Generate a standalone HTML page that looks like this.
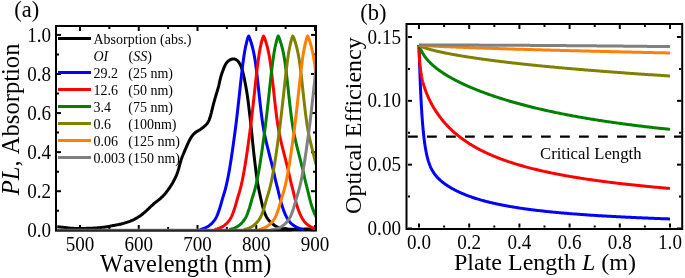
<!DOCTYPE html>
<html><head><meta charset="utf-8">
<style>
html,body{margin:0;padding:0;background:#fff;}
svg{display:block;}
text{font-family:"Liberation Serif",serif;fill:#000;font-kerning:none;}

</style></head>
<body>
<svg width="685" height="278" viewBox="0 0 685 278">
<rect width="685" height="278" fill="#fff"/>
<g opacity="0.999">
<!-- panel a -->
<defs>
<clipPath id="ca"><rect x="57" y="27" width="258" height="205"/></clipPath>
<clipPath id="cb"><rect x="408" y="25" width="273" height="202.5"/></clipPath>
</defs>
<rect x="56" y="26" width="260" height="204.5" fill="none" stroke="#000" stroke-width="2"/>
<g stroke="#000" stroke-width="2"><line x1="80.00" y1="229" x2="80.00" y2="225"/>
<line x1="80.00" y1="27" x2="80.00" y2="31"/>
<line x1="109.38" y1="229" x2="109.38" y2="227"/>
<line x1="109.38" y1="27" x2="109.38" y2="29"/>
<line x1="138.75" y1="229" x2="138.75" y2="225"/>
<line x1="138.75" y1="27" x2="138.75" y2="31"/>
<line x1="168.12" y1="229" x2="168.12" y2="227"/>
<line x1="168.12" y1="27" x2="168.12" y2="29"/>
<line x1="197.50" y1="229" x2="197.50" y2="225"/>
<line x1="197.50" y1="27" x2="197.50" y2="31"/>
<line x1="226.88" y1="229" x2="226.88" y2="227"/>
<line x1="226.88" y1="27" x2="226.88" y2="29"/>
<line x1="256.25" y1="229" x2="256.25" y2="225"/>
<line x1="256.25" y1="27" x2="256.25" y2="31"/>
<line x1="285.62" y1="229" x2="285.62" y2="227"/>
<line x1="285.62" y1="27" x2="285.62" y2="29"/>
<line x1="315.00" y1="229" x2="315.00" y2="225"/>
<line x1="315.00" y1="27" x2="315.00" y2="31"/>
<line x1="57" y1="230.30" x2="61" y2="230.30"/>
<line x1="315" y1="230.30" x2="311" y2="230.30"/>
<line x1="57" y1="210.76" x2="59" y2="210.76"/>
<line x1="315" y1="210.76" x2="313" y2="210.76"/>
<line x1="57" y1="191.22" x2="61" y2="191.22"/>
<line x1="315" y1="191.22" x2="311" y2="191.22"/>
<line x1="57" y1="171.68" x2="59" y2="171.68"/>
<line x1="315" y1="171.68" x2="313" y2="171.68"/>
<line x1="57" y1="152.14" x2="61" y2="152.14"/>
<line x1="315" y1="152.14" x2="311" y2="152.14"/>
<line x1="57" y1="132.60" x2="59" y2="132.60"/>
<line x1="315" y1="132.60" x2="313" y2="132.60"/>
<line x1="57" y1="113.06" x2="61" y2="113.06"/>
<line x1="315" y1="113.06" x2="311" y2="113.06"/>
<line x1="57" y1="93.52" x2="59" y2="93.52"/>
<line x1="315" y1="93.52" x2="313" y2="93.52"/>
<line x1="57" y1="73.98" x2="61" y2="73.98"/>
<line x1="315" y1="73.98" x2="311" y2="73.98"/>
<line x1="57" y1="54.44" x2="59" y2="54.44"/>
<line x1="315" y1="54.44" x2="313" y2="54.44"/>
<line x1="57" y1="34.90" x2="61" y2="34.90"/>
<line x1="315" y1="34.90" x2="311" y2="34.90"/></g>
<g clip-path="url(#ca)" fill="none" stroke-width="3" stroke-linejoin="round">
<path d="M57.29,226.76 L57.77,226.80 L58.37,226.85 L59.07,226.91 L59.82,226.98 L60.62,227.05 L61.43,227.14 L62.24,227.23 L63.06,227.32 L63.88,227.41 L64.70,227.51 L65.52,227.60 L66.34,227.70 L67.16,227.79 L67.98,227.88 L68.80,227.96 L69.62,228.04 L70.44,228.12 L71.26,228.19 L72.08,228.25 L72.90,228.30 L73.72,228.34 L74.54,228.38 L75.37,228.41 L76.19,228.43 L77.01,228.44 L77.84,228.45 L78.66,228.46 L79.49,228.46 L80.31,228.45 L81.13,228.44 L81.96,228.43 L82.78,228.42 L83.61,228.41 L84.43,228.39 L85.26,228.38 L86.08,228.36 L86.91,228.34 L87.73,228.33 L88.55,228.30 L89.38,228.28 L90.20,228.26 L91.02,228.23 L91.85,228.20 L92.67,228.16 L93.49,228.12 L94.32,228.08 L95.14,228.03 L95.96,227.98 L96.78,227.92 L97.60,227.86 L98.42,227.79 L99.24,227.71 L100.06,227.63 L100.88,227.55 L101.70,227.46 L102.52,227.36 L103.34,227.25 L104.16,227.14 L104.97,227.03 L105.79,226.91 L106.60,226.78 L107.41,226.65 L108.23,226.51 L109.04,226.36 L109.85,226.21 L110.66,226.06 L111.46,225.90 L112.27,225.74 L113.08,225.58 L113.89,225.43 L114.70,225.27 L115.51,225.12 L116.32,224.97 L117.13,224.81 L117.94,224.66 L118.75,224.51 L119.56,224.34 L120.36,224.17 L121.16,223.99 L121.96,223.79 L122.76,223.59 L123.55,223.37 L124.34,223.14 L125.13,222.90 L125.92,222.65 L126.70,222.39 L127.48,222.12 L128.26,221.85 L129.04,221.57 L129.81,221.28 L130.58,220.99 L131.34,220.68 L132.10,220.36 L132.86,220.03 L133.60,219.68 L134.34,219.32 L135.07,218.94 L135.79,218.55 L136.51,218.14 L137.22,217.72 L137.92,217.29 L138.61,216.84 L139.30,216.38 L139.98,215.92 L140.65,215.44 L141.32,214.95 L141.98,214.46 L142.63,213.95 L143.27,213.44 L143.91,212.92 L144.54,212.39 L145.17,211.85 L145.79,211.31 L146.40,210.76 L147.00,210.20 L147.60,209.63 L148.20,209.06 L148.79,208.49 L149.38,207.91 L149.97,207.34 L150.56,206.77 L151.16,206.20 L151.76,205.64 L152.37,205.08 L152.99,204.54 L153.61,204.00 L154.24,203.47 L154.88,202.95 L155.52,202.43 L156.16,201.92 L156.81,201.41 L157.46,200.90 L158.11,200.39 L158.75,199.87 L159.39,199.35 L160.02,198.82 L160.64,198.28 L161.25,197.73 L161.85,197.17 L162.45,196.59 L163.03,196.01 L163.60,195.41 L164.16,194.81 L164.70,194.19 L165.24,193.57 L165.76,192.93 L166.28,192.29 L166.78,191.64 L167.27,190.98 L167.76,190.31 L168.24,189.64 L168.72,188.97 L169.18,188.29 L169.65,187.61 L170.10,186.92 L170.56,186.23 L171.00,185.54 L171.44,184.84 L171.88,184.14 L172.30,183.44 L172.72,182.73 L173.12,182.01 L173.52,181.29 L173.91,180.56 L174.29,179.83 L174.66,179.10 L175.02,178.35 L175.37,177.61 L175.71,176.86 L176.04,176.10 L176.37,175.35 L176.68,174.59 L176.99,173.82 L177.28,173.05 L177.56,172.28 L177.83,171.50 L178.08,170.71 L178.32,169.93 L178.56,169.14 L178.78,168.34 L178.99,167.55 L179.20,166.75 L179.41,165.95 L179.62,165.16 L179.83,164.36 L180.04,163.56 L180.27,162.77 L180.49,161.98 L180.73,161.19 L180.97,160.40 L181.23,159.62 L181.49,158.84 L181.77,158.06 L182.05,157.29 L182.35,156.52 L182.65,155.75 L182.96,154.99 L183.28,154.23 L183.60,153.47 L183.92,152.72 L184.25,151.96 L184.58,151.20 L184.90,150.44 L185.23,149.69 L185.55,148.93 L185.88,148.17 L186.20,147.41 L186.52,146.65 L186.85,145.90 L187.18,145.14 L187.51,144.39 L187.85,143.64 L188.19,142.89 L188.54,142.15 L188.90,141.41 L189.27,140.68 L189.65,139.94 L190.05,139.22 L190.45,138.50 L190.87,137.78 L191.31,137.08 L191.77,136.39 L192.26,135.72 L192.76,135.07 L193.30,134.45 L193.86,133.86 L194.46,133.30 L195.09,132.78 L195.74,132.29 L196.41,131.83 L197.11,131.39 L197.81,130.97 L198.52,130.54 L199.23,130.12 L199.93,129.68 L200.62,129.24 L201.30,128.77 L201.97,128.29 L202.62,127.79 L203.27,127.28 L203.91,126.75 L204.53,126.21 L205.14,125.65 L205.73,125.08 L206.30,124.49 L206.84,123.87 L207.34,123.23 L207.81,122.56 L208.23,121.87 L208.62,121.15 L208.97,120.40 L209.28,119.64 L209.57,118.87 L209.84,118.09 L210.09,117.30 L210.33,116.50 L210.56,115.71 L210.78,114.91 L210.99,114.11 L211.19,113.31 L211.40,112.52 L211.59,111.72 L211.79,110.92 L211.99,110.12 L212.18,109.32 L212.38,108.52 L212.57,107.72 L212.77,106.92 L212.97,106.12 L213.17,105.32 L213.38,104.53 L213.59,103.73 L213.80,102.93 L214.01,102.14 L214.23,101.34 L214.45,100.55 L214.67,99.76 L214.90,98.96 L215.13,98.17 L215.35,97.38 L215.58,96.59 L215.82,95.80 L216.05,95.01 L216.28,94.22 L216.52,93.43 L216.76,92.64 L217.00,91.85 L217.23,91.06 L217.47,90.27 L217.71,89.48 L217.94,88.69 L218.16,87.90 L218.38,87.10 L218.59,86.31 L218.79,85.51 L218.97,84.71 L219.16,83.90 L219.33,83.10 L219.51,82.29 L219.68,81.49 L219.86,80.68 L220.04,79.88 L220.23,79.08 L220.43,78.28 L220.64,77.48 L220.86,76.69 L221.09,75.90 L221.33,75.11 L221.58,74.32 L221.84,73.54 L222.11,72.76 L222.38,71.99 L222.66,71.22 L222.94,70.44 L223.23,69.67 L223.53,68.90 L223.83,68.13 L224.14,67.36 L224.47,66.60 L224.80,65.84 L225.16,65.10 L225.55,64.38 L225.98,63.68 L226.44,63.01 L226.94,62.38 L227.49,61.79 L228.08,61.23 L228.72,60.71 L229.40,60.24 L230.11,59.82 L230.84,59.46 L231.60,59.17 L232.37,58.98 L233.14,58.89 L233.91,58.92 L234.67,59.06 L235.41,59.33 L236.11,59.70 L236.78,60.15 L237.41,60.69 L238.00,61.28 L238.54,61.91 L239.03,62.57 L239.49,63.26 L239.90,63.97 L240.28,64.70 L240.62,65.44 L240.95,66.19 L241.25,66.96 L241.53,67.73 L241.79,68.50 L242.04,69.29 L242.28,70.08 L242.51,70.87 L242.72,71.67 L242.93,72.47 L243.13,73.27 L243.32,74.07 L243.50,74.88 L243.69,75.69 L243.86,76.49 L244.04,77.30 L244.20,78.11 L244.37,78.91 L244.54,79.72 L244.70,80.53 L244.86,81.34 L245.01,82.14 L245.17,82.95 L245.32,83.76 L245.47,84.57 L245.62,85.38 L245.77,86.19 L245.92,87.00 L246.06,87.81 L246.21,88.62 L246.35,89.43 L246.49,90.25 L246.62,91.06 L246.76,91.87 L246.89,92.69 L247.02,93.50 L247.15,94.31 L247.27,95.13 L247.40,95.94 L247.51,96.76 L247.63,97.57 L247.74,98.39 L247.85,99.21 L247.96,100.02 L248.07,100.84 L248.17,101.66 L248.28,102.48 L248.38,103.29 L248.48,104.11 L248.58,104.93 L248.67,105.75 L248.77,106.57 L248.87,107.38 L248.97,108.20 L249.06,109.02 L249.16,109.84 L249.26,110.66 L249.35,111.48 L249.45,112.29 L249.55,113.11 L249.65,113.93 L249.74,114.75 L249.84,115.57 L249.94,116.38 L250.03,117.20 L250.13,118.02 L250.22,118.84 L250.32,119.66 L250.41,120.48 L250.51,121.29 L250.60,122.11 L250.69,122.93 L250.78,123.75 L250.87,124.57 L250.96,125.39 L251.05,126.21 L251.14,127.03 L251.22,127.85 L251.31,128.67 L251.39,129.49 L251.48,130.31 L251.56,131.13 L251.64,131.95 L251.72,132.76 L251.81,133.58 L251.89,134.40 L251.97,135.22 L252.05,136.04 L252.13,136.86 L252.21,137.68 L252.29,138.50 L252.37,139.32 L252.45,140.14 L252.54,140.96 L252.62,141.78 L252.70,142.60 L252.78,143.42 L252.87,144.24 L252.95,145.06 L253.03,145.88 L253.12,146.70 L253.20,147.52 L253.29,148.34 L253.38,149.16 L253.46,149.98 L253.55,150.80 L253.64,151.62 L253.73,152.44 L253.82,153.26 L253.91,154.08 L254.00,154.89 L254.09,155.71 L254.19,156.53 L254.28,157.35 L254.38,158.17 L254.47,158.99 L254.57,159.81 L254.66,160.62 L254.76,161.44 L254.86,162.26 L254.95,163.08 L255.05,163.90 L255.15,164.71 L255.25,165.53 L255.35,166.35 L255.45,167.17 L255.55,167.99 L255.65,168.80 L255.75,169.62 L255.86,170.44 L255.96,171.26 L256.06,172.07 L256.17,172.89 L256.27,173.71 L256.38,174.53 L256.49,175.34 L256.60,176.16 L256.71,176.98 L256.82,177.79 L256.94,178.61 L257.06,179.42 L257.18,180.24 L257.30,181.05 L257.43,181.87 L257.57,182.68 L257.70,183.49 L257.84,184.30 L257.99,185.11 L258.14,185.93 L258.29,186.74 L258.45,187.54 L258.61,188.35 L258.77,189.16 L258.94,189.97 L259.11,190.77 L259.28,191.58 L259.45,192.39 L259.63,193.19 L259.80,194.00 L259.98,194.80 L260.16,195.61 L260.33,196.41 L260.51,197.21 L260.69,198.02 L260.87,198.82 L261.05,199.62 L261.23,200.42 L261.41,201.23 L261.59,202.03 L261.78,202.83 L261.97,203.63 L262.16,204.43 L262.36,205.23 L262.56,206.03 L262.77,206.83 L262.98,207.62 L263.21,208.42 L263.44,209.21 L263.68,210.01 L263.93,210.80 L264.19,211.59 L264.47,212.37 L264.76,213.15 L265.07,213.92 L265.40,214.68 L265.74,215.43 L266.11,216.17 L266.50,216.89 L266.91,217.60 L267.35,218.29 L267.82,218.96 L268.31,219.61 L268.83,220.24 L269.38,220.86 L269.94,221.45 L270.53,222.03 L271.13,222.60 L271.75,223.14 L272.39,223.68 L273.04,224.20 L273.70,224.70 L274.37,225.19 L275.05,225.65 L275.75,226.09 L276.46,226.49 L277.19,226.87 L277.93,227.21 L278.69,227.52 L279.46,227.79 L280.24,228.02 L281.04,228.23 L281.85,228.40 L282.66,228.55 L283.47,228.68 L284.29,228.79 L285.12,228.89 L285.94,228.97 L286.76,229.04 L287.59,229.10 L288.41,229.15 L289.23,229.20 L290.06,229.23 L290.88,229.26 L291.70,229.27 L292.52,229.29 L293.35,229.29 L294.17,229.29 L294.99,229.29 L295.81,229.28 L296.64,229.27 L297.46,229.25 L298.28,229.24 L299.10,229.22 L299.92,229.20 L300.75,229.18 L301.57,229.16 L302.39,229.15 L303.22,229.13 L304.04,229.12 L304.86,229.10 L305.68,229.10 L306.51,229.09 L307.33,229.09 L308.16,229.10 L308.98,229.11 L309.80,229.13 L310.63,229.15 L311.45,229.19 L312.26,229.23 L313.04,229.27 L313.78,229.32 L314.43,229.37 L314.98,229.41" stroke="#000"/>
<path d="M199.76,229.49 L200.13,229.42 L200.50,229.35 L200.88,229.27 L201.25,229.18 L201.62,229.09 L202.00,229.00 L202.37,228.89 L202.74,228.78 L203.12,228.67 L203.49,228.55 L203.86,228.41 L204.24,228.28 L204.61,228.13 L204.98,227.98 L205.36,227.81 L205.73,227.64 L206.10,227.46 L206.48,227.27 L206.85,227.07 L207.22,226.86 L207.60,226.64 L207.97,226.41 L208.34,226.17 L208.72,225.92 L209.09,225.65 L209.46,225.38 L209.84,225.09 L210.21,224.79 L210.58,224.47 L210.96,224.14 L211.33,223.80 L211.70,223.44 L212.08,223.05 L212.45,222.65 L212.82,222.23 L213.20,221.79 L213.57,221.34 L213.94,220.87 L214.32,220.37 L214.69,219.85 L215.06,219.30 L215.44,218.72 L215.81,218.10 L216.18,217.43 L216.56,216.70 L216.93,215.90 L217.30,215.04 L217.68,214.12 L218.05,213.14 L218.42,212.12 L218.80,211.05 L219.17,209.97 L219.55,208.85 L219.92,207.68 L220.29,206.45 L220.67,205.17 L221.04,203.86 L221.41,202.53 L221.79,201.19 L222.16,199.87 L222.53,198.59 L222.91,197.34 L223.28,196.13 L223.65,194.93 L224.03,193.73 L224.40,192.50 L224.77,191.23 L225.15,189.88 L225.52,188.45 L225.89,186.96 L226.27,185.41 L226.64,183.80 L227.01,182.12 L227.39,180.37 L227.76,178.56 L228.13,176.68 L228.51,174.73 L228.88,172.72 L229.25,170.64 L229.63,168.50 L230.00,166.29 L230.37,164.01 L230.75,161.68 L231.12,159.29 L231.49,156.84 L231.87,154.33 L232.24,151.78 L232.61,149.18 L232.99,146.54 L233.36,143.87 L233.73,141.17 L234.11,138.44 L234.48,135.69 L234.85,132.94 L235.23,130.15 L235.60,127.28 L235.97,124.32 L236.35,121.28 L236.72,118.17 L237.09,115.00 L237.47,111.75 L237.84,108.46 L238.21,105.11 L238.59,101.73 L238.96,98.31 L239.33,94.87 L239.71,91.43 L240.08,87.99 L240.45,84.56 L240.83,81.16 L241.20,77.81 L241.58,74.52 L241.95,71.30 L242.32,68.18 L242.70,65.16 L243.07,62.28 L243.44,59.54 L243.82,56.95 L244.19,54.50 L244.56,52.20 L244.94,50.06 L245.31,48.09 L245.68,46.31 L246.06,44.66 L246.43,43.06 L246.80,41.53 L247.18,40.10 L247.55,38.79 L247.92,37.60 L248.30,36.58 L248.67,35.99 L249.04,36.70 L249.42,37.52 L249.79,38.45 L250.16,39.48 L250.54,40.59 L250.91,41.77 L251.28,43.01 L251.66,44.29 L252.03,45.62 L252.40,46.99 L252.78,48.46 L253.15,50.05 L253.52,51.77 L253.90,53.60 L254.27,55.56 L254.64,57.63 L255.02,59.84 L255.39,62.27 L255.76,64.93 L256.14,67.79 L256.51,70.81 L256.88,73.97 L257.26,77.24 L257.63,80.59 L258.00,84.00 L258.38,87.44 L258.75,90.89 L259.12,94.32 L259.50,97.73 L259.87,101.09 L260.24,104.38 L260.62,107.60 L260.99,110.73 L261.36,113.75 L261.74,116.67 L262.11,119.47 L262.48,122.14 L262.86,124.67 L263.23,127.07 L263.61,129.32 L263.98,131.42 L264.35,133.37 L264.73,135.19 L265.10,136.90 L265.47,138.57 L265.85,140.23 L266.22,141.86 L266.59,143.44 L266.97,144.98 L267.34,146.49 L267.71,147.98 L268.09,149.46 L268.46,150.93 L268.83,152.41 L269.21,153.89 L269.58,155.39 L269.95,156.87 L270.33,158.33 L270.70,159.78 L271.07,161.22 L271.45,162.67 L271.82,164.13 L272.19,165.60 L272.57,167.10 L272.94,168.62 L273.31,170.17 L273.69,171.82 L274.06,173.56 L274.43,175.33 L274.81,177.07 L275.18,178.72 L275.55,180.30 L275.93,181.82 L276.30,183.31 L276.67,184.78 L277.05,186.25 L277.42,187.73 L277.79,189.23 L278.17,190.76 L278.54,192.32 L278.91,193.90 L279.29,195.46 L279.66,197.00 L280.03,198.50 L280.41,199.94 L280.78,201.31 L281.15,202.63 L281.53,203.91 L281.90,205.15 L282.27,206.34 L282.65,207.49 L283.02,208.59 L283.39,209.65 L283.77,210.67 L284.14,211.64 L284.52,212.56 L284.89,213.45 L285.26,214.30 L285.64,215.11 L286.01,215.90 L286.38,216.64 L286.76,217.35 L287.13,218.03 L287.50,218.67 L287.88,219.29 L288.25,219.86 L288.62,220.41 L289.00,220.93 L289.37,221.42 L289.74,221.87 L290.12,222.30 L290.49,222.71 L290.86,223.09 L291.24,223.45 L291.61,223.78 L291.98,224.11 L292.36,224.42 L292.73,224.71 L293.10,224.99 L293.48,225.26 L293.85,225.52 L294.22,225.77 L294.60,226.02 L294.97,226.25 L295.34,226.48 L295.72,226.69 L296.09,226.90 L296.46,227.11 L296.84,227.30 L297.21,227.48 L297.58,227.66 L297.96,227.82 L298.33,227.98 L298.70,228.13 L299.08,228.27 L299.45,228.40 L299.82,228.53 L300.20,228.65 L300.57,228.76 L300.94,228.86 L301.32,228.96 L301.69,229.05 L302.06,229.14 L302.44,229.22 L302.81,229.30 L303.18,229.37 L303.56,229.44 L303.93,229.50" stroke="#0000ff"/><path d="M214.69,229.48 L215.06,229.41 L215.44,229.34 L215.81,229.26 L216.18,229.18 L216.56,229.08 L216.93,228.99 L217.30,228.88 L217.68,228.77 L218.05,228.66 L218.42,228.53 L218.80,228.40 L219.17,228.26 L219.55,228.12 L219.92,227.96 L220.29,227.80 L220.67,227.62 L221.04,227.44 L221.41,227.25 L221.79,227.05 L222.16,226.84 L222.53,226.62 L222.91,226.39 L223.28,226.15 L223.65,225.89 L224.03,225.63 L224.40,225.35 L224.77,225.06 L225.15,224.76 L225.52,224.44 L225.89,224.11 L226.27,223.76 L226.64,223.40 L227.01,223.02 L227.39,222.61 L227.76,222.19 L228.13,221.75 L228.51,221.29 L228.88,220.82 L229.25,220.32 L229.63,219.80 L230.00,219.25 L230.37,218.66 L230.75,218.04 L231.12,217.36 L231.49,216.63 L231.87,215.82 L232.24,214.96 L232.61,214.03 L232.99,213.05 L233.36,212.02 L233.73,210.95 L234.11,209.86 L234.48,208.74 L234.85,207.56 L235.23,206.33 L235.60,205.05 L235.97,203.73 L236.35,202.40 L236.72,201.06 L237.09,199.75 L237.47,198.47 L237.84,197.23 L238.21,196.02 L238.59,194.82 L238.96,193.62 L239.33,192.39 L239.71,191.10 L240.08,189.74 L240.45,188.31 L240.83,186.82 L241.20,185.26 L241.58,183.64 L241.95,181.95 L242.32,180.20 L242.70,178.38 L243.07,176.50 L243.44,174.54 L243.82,172.52 L244.19,170.44 L244.56,168.29 L244.94,166.07 L245.31,163.79 L245.68,161.45 L246.06,159.06 L246.43,156.60 L246.80,154.09 L247.18,151.54 L247.55,148.93 L247.92,146.29 L248.30,143.61 L248.67,140.91 L249.04,138.18 L249.42,135.43 L249.79,132.68 L250.16,129.88 L250.54,127.00 L250.91,124.03 L251.28,120.99 L251.66,117.87 L252.03,114.69 L252.40,111.44 L252.78,108.14 L253.15,104.79 L253.52,101.40 L253.90,97.98 L254.27,94.55 L254.64,91.10 L255.02,87.66 L255.39,84.23 L255.76,80.84 L256.14,77.49 L256.51,74.21 L256.88,71.00 L257.26,67.88 L257.63,64.88 L258.00,62.01 L258.38,59.29 L258.75,56.71 L259.12,54.27 L259.50,51.99 L259.87,49.86 L260.24,47.91 L260.62,46.15 L260.99,44.50 L261.36,42.91 L261.74,41.39 L262.11,39.97 L262.48,38.67 L262.86,37.50 L263.23,36.49 L263.61,36.06 L263.98,36.77 L264.35,37.61 L264.73,38.55 L265.10,39.58 L265.47,40.70 L265.85,41.88 L266.22,43.13 L266.59,44.42 L266.97,45.75 L267.34,47.12 L267.71,48.61 L268.09,50.21 L268.46,51.94 L268.83,53.78 L269.21,55.75 L269.58,57.84 L269.95,60.06 L270.33,62.51 L270.70,65.19 L271.07,68.07 L271.45,71.11 L271.82,74.28 L272.19,77.56 L272.57,80.91 L272.94,84.33 L273.31,87.77 L273.69,91.21 L274.06,94.65 L274.43,98.05 L274.81,101.40 L275.18,104.69 L275.55,107.90 L275.93,111.02 L276.30,114.04 L276.67,116.94 L277.05,119.73 L277.42,122.38 L277.79,124.91 L278.17,127.29 L278.54,129.53 L278.91,131.62 L279.29,133.55 L279.66,135.35 L280.03,137.06 L280.41,138.73 L280.78,140.39 L281.15,142.01 L281.53,143.58 L281.90,145.12 L282.27,146.63 L282.65,148.12 L283.02,149.60 L283.39,151.07 L283.77,152.55 L284.14,154.03 L284.52,155.53 L284.89,157.01 L285.26,158.47 L285.64,159.92 L286.01,161.36 L286.38,162.81 L286.76,164.27 L287.13,165.74 L287.50,167.24 L287.88,168.77 L288.25,170.32 L288.62,171.98 L289.00,173.73 L289.37,175.50 L289.74,177.23 L290.12,178.87 L290.49,180.44 L290.86,181.96 L291.24,183.45 L291.61,184.92 L291.98,186.39 L292.36,187.87 L292.73,189.37 L293.10,190.91 L293.48,192.47 L293.85,194.05 L294.22,195.61 L294.60,197.14 L294.97,198.64 L295.34,200.07 L295.72,201.44 L296.09,202.76 L296.46,204.03 L296.84,205.26 L297.21,206.45 L297.58,207.60 L297.96,208.70 L298.33,209.75 L298.70,210.76 L299.08,211.73 L299.45,212.65 L299.82,213.53 L300.20,214.38 L300.57,215.19 L300.94,215.97 L301.32,216.71 L301.69,217.42 L302.06,218.09 L302.44,218.73 L302.81,219.34 L303.18,219.92 L303.56,220.46 L303.93,220.98 L304.30,221.46 L304.68,221.92 L305.05,222.34 L305.42,222.74 L305.80,223.12 L306.17,223.48 L306.55,223.82 L306.92,224.14 L307.29,224.44 L307.67,224.74 L308.04,225.02 L308.41,225.29 L308.79,225.55 L309.16,225.80 L309.53,226.04 L309.91,226.27 L310.28,226.50 L310.65,226.71 L311.03,226.92 L311.40,227.12 L311.77,227.32 L312.15,227.50 L312.52,227.67 L312.89,227.84 L313.27,227.99 L313.64,228.14 L314.01,228.28 L314.39,228.42 L314.76,228.54 L315.13,228.66 L315.51,228.77 L315.88,228.87 L316.25,228.97 L316.63,229.06 L317.00,229.15" stroke="#ff0000"/><path d="M229.25,229.51 L229.63,229.44 L230.00,229.37 L230.37,229.29 L230.75,229.21 L231.12,229.12 L231.49,229.02 L231.87,228.92 L232.24,228.82 L232.61,228.70 L232.99,228.58 L233.36,228.45 L233.73,228.31 L234.11,228.17 L234.48,228.02 L234.85,227.86 L235.23,227.69 L235.60,227.51 L235.97,227.32 L236.35,227.13 L236.72,226.92 L237.09,226.70 L237.47,226.48 L237.84,226.24 L238.21,225.99 L238.59,225.73 L238.96,225.45 L239.33,225.17 L239.71,224.87 L240.08,224.56 L240.45,224.24 L240.83,223.89 L241.20,223.54 L241.58,223.16 L241.95,222.76 L242.32,222.35 L242.70,221.91 L243.07,221.46 L243.44,221.00 L243.82,220.51 L244.19,220.00 L244.56,219.46 L244.94,218.88 L245.31,218.27 L245.68,217.61 L246.06,216.90 L246.43,216.13 L246.80,215.29 L247.18,214.38 L247.55,213.42 L247.92,212.40 L248.30,211.35 L248.67,210.27 L249.04,209.16 L249.42,208.01 L249.79,206.79 L250.16,205.53 L250.54,204.22 L250.91,202.89 L251.28,201.56 L251.66,200.23 L252.03,198.93 L252.40,197.68 L252.78,196.46 L253.15,195.26 L253.52,194.06 L253.90,192.84 L254.27,191.58 L254.64,190.26 L255.02,188.85 L255.39,187.38 L255.76,185.84 L256.14,184.25 L256.51,182.58 L256.88,180.86 L257.26,179.06 L257.63,177.20 L258.00,175.27 L258.38,173.28 L258.75,171.22 L259.12,169.09 L259.50,166.90 L259.87,164.64 L260.24,162.32 L260.62,159.95 L260.99,157.51 L261.36,155.02 L261.74,152.49 L262.11,149.90 L262.48,147.27 L262.86,144.60 L263.23,141.91 L263.61,139.19 L263.98,136.44 L264.35,133.69 L264.73,130.92 L265.10,128.07 L265.47,125.14 L265.85,122.12 L266.22,119.03 L266.59,115.87 L266.97,112.65 L267.34,109.36 L267.71,106.03 L268.09,102.66 L268.46,99.25 L268.83,95.82 L269.21,92.37 L269.58,88.93 L269.95,85.49 L270.33,82.09 L270.70,78.72 L271.07,75.41 L271.45,72.17 L271.82,69.02 L272.19,65.97 L272.57,63.05 L272.94,60.27 L273.31,57.65 L273.69,55.16 L274.06,52.81 L274.43,50.63 L274.81,48.61 L275.18,46.78 L275.55,45.11 L275.93,43.49 L276.30,41.94 L276.67,40.48 L277.05,39.13 L277.42,37.91 L277.79,36.84 L278.17,35.95 L278.54,36.49 L278.91,37.29 L279.29,38.19 L279.66,39.19 L280.03,40.28 L280.41,41.44 L280.78,42.66 L281.15,43.94 L281.53,45.25 L281.90,46.60 L282.27,48.05 L282.65,49.61 L283.02,51.29 L283.39,53.09 L283.77,55.01 L284.14,57.05 L284.52,59.22 L284.89,61.58 L285.26,64.18 L285.64,66.99 L286.01,69.97 L286.38,73.09 L286.76,76.34 L287.13,79.67 L287.50,83.06 L287.88,86.50 L288.25,89.94 L288.62,93.38 L289.00,96.80 L289.37,100.17 L289.74,103.49 L290.12,106.73 L290.49,109.88 L290.86,112.94 L291.24,115.88 L291.61,118.71 L291.98,121.42 L292.36,123.99 L292.73,126.43 L293.10,128.72 L293.48,130.86 L293.85,132.86 L294.22,134.70 L294.60,136.44 L294.97,138.12 L295.34,139.77 L295.72,141.42 L296.09,143.01 L296.46,144.56 L296.84,146.08 L297.21,147.57 L297.58,149.05 L297.96,150.53 L298.33,152.00 L298.70,153.48 L299.08,154.98 L299.45,156.47 L299.82,157.94 L300.20,159.39 L300.57,160.83 L300.94,162.27 L301.32,163.73 L301.69,165.20 L302.06,166.68 L302.44,168.20 L302.81,169.74 L303.18,171.36 L303.56,173.08 L303.93,174.85 L304.30,176.60 L304.68,178.28 L305.05,179.87 L305.42,181.41 L305.80,182.90 L306.17,184.38 L306.55,185.85 L306.92,187.32 L307.29,188.81 L307.67,190.33 L308.04,191.89 L308.41,193.47 L308.79,195.04 L309.16,196.58 L309.53,198.09 L309.91,199.55 L310.28,200.94 L310.65,202.28 L311.03,203.57 L311.40,204.81 L311.77,206.02 L312.15,207.18 L312.52,208.30 L312.89,209.37 L313.27,210.39 L313.64,211.38 L314.01,212.32 L314.39,213.21 L314.76,214.07 L315.13,214.89 L315.51,215.68 L315.88,216.44 L316.25,217.16 L316.63,217.85 L317.00,218.50" stroke="#008000"/><path d="M243.82,229.51 L244.19,229.45 L244.56,229.38 L244.94,229.30 L245.31,229.22 L245.68,229.13 L246.06,229.03 L246.43,228.93 L246.80,228.83 L247.18,228.71 L247.55,228.59 L247.92,228.46 L248.30,228.33 L248.67,228.19 L249.04,228.03 L249.42,227.87 L249.79,227.71 L250.16,227.53 L250.54,227.34 L250.91,227.15 L251.28,226.94 L251.66,226.73 L252.03,226.50 L252.40,226.26 L252.78,226.01 L253.15,225.75 L253.52,225.48 L253.90,225.20 L254.27,224.90 L254.64,224.59 L255.02,224.27 L255.39,223.93 L255.76,223.57 L256.14,223.20 L256.51,222.80 L256.88,222.39 L257.26,221.96 L257.63,221.51 L258.00,221.05 L258.38,220.56 L258.75,220.05 L259.12,219.51 L259.50,218.94 L259.87,218.34 L260.24,217.68 L260.62,216.98 L260.99,216.21 L261.36,215.37 L261.74,214.47 L262.11,213.52 L262.48,212.51 L262.86,211.46 L263.23,210.38 L263.61,209.28 L263.98,208.12 L264.35,206.92 L264.73,205.66 L265.10,204.36 L265.47,203.03 L265.85,201.69 L266.22,200.36 L266.59,199.06 L266.97,197.81 L267.34,196.58 L267.71,195.38 L268.09,194.18 L268.46,192.97 L268.83,191.71 L269.21,190.39 L269.58,188.99 L269.95,187.53 L270.33,186.00 L270.70,184.41 L271.07,182.75 L271.45,181.03 L271.82,179.25 L272.19,177.39 L272.57,175.47 L272.94,173.48 L273.31,171.43 L273.69,169.31 L274.06,167.12 L274.43,164.87 L274.81,162.56 L275.18,160.19 L275.55,157.76 L275.93,155.28 L276.30,152.74 L276.67,150.16 L277.05,147.54 L277.42,144.88 L277.79,142.18 L278.17,139.46 L278.54,136.72 L278.91,133.97 L279.29,131.20 L279.66,128.36 L280.03,125.44 L280.41,122.43 L280.78,119.35 L281.15,116.19 L281.53,112.98 L281.90,109.70 L282.27,106.37 L282.65,103.00 L283.02,99.59 L283.39,96.16 L283.77,92.72 L284.14,89.28 L284.52,85.84 L284.89,82.43 L285.26,79.06 L285.64,75.74 L286.01,72.49 L286.38,69.33 L286.76,66.28 L287.13,63.34 L287.50,60.55 L287.88,57.91 L288.25,55.40 L288.62,53.04 L289.00,50.84 L289.37,48.81 L289.74,46.96 L290.12,45.27 L290.49,43.65 L290.86,42.10 L291.24,40.63 L291.61,39.26 L291.98,38.03 L292.36,36.94 L292.73,36.03 L293.10,36.42 L293.48,37.20 L293.85,38.09 L294.22,39.08 L294.60,40.16 L294.97,41.32 L295.34,42.53 L295.72,43.81 L296.09,45.12 L296.46,46.47 L296.84,47.90 L297.21,49.44 L297.58,51.11 L297.96,52.90 L298.33,54.81 L298.70,56.84 L299.08,58.99 L299.45,61.33 L299.82,63.91 L300.20,66.69 L300.57,69.66 L300.94,72.77 L301.32,76.00 L301.69,79.33 L302.06,82.72 L302.44,86.15 L302.81,89.59 L303.18,93.04 L303.56,96.46 L303.93,99.83 L304.30,103.16 L304.68,106.40 L305.05,109.57 L305.42,112.63 L305.80,115.59 L306.17,118.43 L306.55,121.15 L306.92,123.74 L307.29,126.19 L307.67,128.49 L308.04,130.65 L308.41,132.66 L308.79,134.52 L309.16,136.27 L309.53,137.95 L309.91,139.61 L310.28,141.25 L310.65,142.85 L311.03,144.40 L311.40,145.92 L311.77,147.42 L312.15,148.90 L312.52,150.38 L312.89,151.85 L313.27,153.33 L313.64,154.83 L314.01,156.32 L314.39,157.79 L314.76,159.24 L315.13,160.68 L315.51,162.13 L315.88,163.58 L316.25,165.05 L316.63,166.53 L317.00,168.04" stroke="#808000"/><path d="M258.75,229.49 L259.12,229.42 L259.50,229.35 L259.87,229.27 L260.24,229.18 L260.62,229.09 L260.99,229.00 L261.36,228.90 L261.74,228.79 L262.11,228.67 L262.48,228.55 L262.86,228.42 L263.23,228.28 L263.61,228.13 L263.98,227.98 L264.35,227.81 L264.73,227.64 L265.10,227.46 L265.47,227.27 L265.85,227.07 L266.22,226.87 L266.59,226.64 L266.97,226.41 L267.34,226.17 L267.71,225.92 L268.09,225.66 L268.46,225.38 L268.83,225.09 L269.21,224.79 L269.58,224.48 L269.95,224.15 L270.33,223.80 L270.70,223.44 L271.07,223.06 L271.45,222.66 L271.82,222.23 L272.19,221.80 L272.57,221.34 L272.94,220.87 L273.31,220.38 L273.69,219.86 L274.06,219.31 L274.43,218.73 L274.81,218.10 L275.18,217.43 L275.55,216.71 L275.93,215.91 L276.30,215.05 L276.67,214.13 L277.05,213.16 L277.42,212.13 L277.79,211.07 L278.17,209.98 L278.54,208.86 L278.91,207.69 L279.29,206.46 L279.66,205.19 L280.03,203.88 L280.41,202.54 L280.78,201.21 L281.15,199.89 L281.53,198.60 L281.90,197.36 L282.27,196.15 L282.65,194.95 L283.02,193.75 L283.39,192.52 L283.77,191.24 L284.14,189.89 L284.52,188.47 L284.89,186.98 L285.26,185.43 L285.64,183.82 L286.01,182.14 L286.38,180.39 L286.76,178.58 L287.13,176.70 L287.50,174.76 L287.88,172.74 L288.25,170.66 L288.62,168.52 L289.00,166.31 L289.37,164.04 L289.74,161.71 L290.12,159.31 L290.49,156.87 L290.86,154.36 L291.24,151.81 L291.61,149.21 L291.98,146.58 L292.36,143.90 L292.73,141.20 L293.10,138.47 L293.48,135.72 L293.85,132.97 L294.22,130.18 L294.60,127.31 L294.97,124.35 L295.34,121.32 L295.72,118.21 L296.09,115.03 L296.46,111.79 L296.84,108.50 L297.21,105.15 L297.58,101.77 L297.96,98.35 L298.33,94.91 L298.70,91.47 L299.08,88.03 L299.45,84.60 L299.82,81.20 L300.20,77.85 L300.57,74.55 L300.94,71.34 L301.32,68.21 L301.69,65.20 L302.06,62.31 L302.44,59.57 L302.81,56.98 L303.18,54.53 L303.56,52.22 L303.93,50.08 L304.30,48.11 L304.68,46.33 L305.05,44.68 L305.42,43.08 L305.80,41.55 L306.17,40.12 L306.55,38.80 L306.92,37.62 L307.29,36.59 L307.67,35.99 L308.04,36.69 L308.41,37.51 L308.79,38.44 L309.16,39.47 L309.53,40.57 L309.91,41.75 L310.28,42.99 L310.65,44.28 L311.03,45.60 L311.40,46.97 L311.77,48.44 L312.15,50.04 L312.52,51.75 L312.89,53.58 L313.27,55.53 L313.64,57.61 L314.01,59.81 L314.39,62.24 L314.76,64.90 L315.13,67.75 L315.51,70.77 L315.88,73.93 L316.25,77.20 L316.63,80.55 L317.00,83.96" stroke="#ff8000"/><path d="M56.00,230.30 L56.37,230.30 L56.75,230.30 L57.12,230.30 L57.49,230.30 L57.87,230.30 L58.24,230.30 L58.61,230.30 L58.99,230.30 L59.36,230.30 L59.73,230.30 L60.11,230.30 L60.48,230.30 L60.85,230.30 L61.23,230.30 L61.60,230.30 L61.97,230.30 L62.35,230.30 L62.72,230.30 L63.09,230.30 L63.47,230.30 L63.84,230.30 L64.21,230.30 L64.59,230.30 L64.96,230.30 L65.33,230.30 L65.71,230.30 L66.08,230.30 L66.45,230.30 L66.83,230.30 L67.20,230.30 L67.58,230.30 L67.95,230.30 L68.32,230.30 L68.70,230.30 L69.07,230.30 L69.44,230.30 L69.82,230.30 L70.19,230.30 L70.56,230.30 L70.94,230.30 L71.31,230.30 L71.68,230.30 L72.06,230.30 L72.43,230.30 L72.80,230.30 L73.18,230.30 L73.55,230.30 L73.92,230.30 L74.30,230.30 L74.67,230.30 L75.04,230.30 L75.42,230.30 L75.79,230.30 L76.16,230.30 L76.54,230.30 L76.91,230.30 L77.28,230.30 L77.66,230.30 L78.03,230.30 L78.40,230.30 L78.78,230.30 L79.15,230.30 L79.52,230.30 L79.90,230.30 L80.27,230.30 L80.64,230.30 L81.02,230.30 L81.39,230.30 L81.76,230.30 L82.14,230.30 L82.51,230.30 L82.88,230.30 L83.26,230.30 L83.63,230.30 L84.00,230.30 L84.38,230.30 L84.75,230.30 L85.12,230.30 L85.50,230.30 L85.87,230.30 L86.24,230.30 L86.62,230.30 L86.99,230.30 L87.36,230.30 L87.74,230.30 L88.11,230.30 L88.48,230.30 L88.86,230.30 L89.23,230.30 L89.61,230.30 L89.98,230.30 L90.35,230.30 L90.73,230.30 L91.10,230.30 L91.47,230.30 L91.85,230.30 L92.22,230.30 L92.59,230.30 L92.97,230.30 L93.34,230.30 L93.71,230.30 L94.09,230.30 L94.46,230.30 L94.83,230.30 L95.21,230.30 L95.58,230.30 L95.95,230.30 L96.33,230.30 L96.70,230.30 L97.07,230.30 L97.45,230.30 L97.82,230.30 L98.19,230.30 L98.57,230.30 L98.94,230.30 L99.31,230.30 L99.69,230.30 L100.06,230.30 L100.43,230.30 L100.81,230.30 L101.18,230.30 L101.55,230.30 L101.93,230.30 L102.30,230.30 L102.67,230.30 L103.05,230.30 L103.42,230.30 L103.79,230.30 L104.17,230.30 L104.54,230.30 L104.91,230.30 L105.29,230.30 L105.66,230.30 L106.03,230.30 L106.41,230.30 L106.78,230.30 L107.15,230.30 L107.53,230.30 L107.90,230.30 L108.27,230.30 L108.65,230.30 L109.02,230.30 L109.39,230.30 L109.77,230.30 L110.14,230.30 L110.52,230.30 L110.89,230.30 L111.26,230.30 L111.64,230.30 L112.01,230.30 L112.38,230.30 L112.76,230.30 L113.13,230.30 L113.50,230.30 L113.88,230.30 L114.25,230.30 L114.62,230.30 L115.00,230.30 L115.37,230.30 L115.74,230.30 L116.12,230.30 L116.49,230.30 L116.86,230.30 L117.24,230.30 L117.61,230.30 L117.98,230.30 L118.36,230.30 L118.73,230.30 L119.10,230.30 L119.48,230.30 L119.85,230.30 L120.22,230.30 L120.60,230.30 L120.97,230.30 L121.34,230.30 L121.72,230.30 L122.09,230.30 L122.46,230.30 L122.84,230.30 L123.21,230.30 L123.58,230.30 L123.96,230.30 L124.33,230.30 L124.70,230.30 L125.08,230.30 L125.45,230.30 L125.82,230.30 L126.20,230.30 L126.57,230.30 L126.94,230.30 L127.32,230.30 L127.69,230.30 L128.06,230.30 L128.44,230.30 L128.81,230.30 L129.18,230.30 L129.56,230.30 L129.93,230.30 L130.30,230.30 L130.68,230.30 L131.05,230.30 L131.42,230.30 L131.80,230.30 L132.17,230.30 L132.55,230.30 L132.92,230.30 L133.29,230.30 L133.67,230.30 L134.04,230.30 L134.41,230.30 L134.79,230.30 L135.16,230.30 L135.53,230.30 L135.91,230.30 L136.28,230.30 L136.65,230.30 L137.03,230.30 L137.40,230.30 L137.77,230.30 L138.15,230.30 L138.52,230.30 L138.89,230.30 L139.27,230.30 L139.64,230.30 L140.01,230.30 L140.39,230.30 L140.76,230.30 L141.13,230.30 L141.51,230.30 L141.88,230.30 L142.25,230.30 L142.63,230.30 L143.00,230.30 L143.37,230.30 L143.75,230.30 L144.12,230.30 L144.49,230.30 L144.87,230.30 L145.24,230.30 L145.61,230.30 L145.99,230.30 L146.36,230.30 L146.73,230.30 L147.11,230.30 L147.48,230.30 L147.85,230.30 L148.23,230.30 L148.60,230.30 L148.97,230.30 L149.35,230.30 L149.72,230.30 L150.09,230.30 L150.47,230.30 L150.84,230.30 L151.21,230.30 L151.59,230.30 L151.96,230.30 L152.33,230.30 L152.71,230.30 L153.08,230.30 L153.45,230.30 L153.83,230.30 L154.20,230.30 L154.58,230.30 L154.95,230.30 L155.32,230.30 L155.70,230.30 L156.07,230.30 L156.44,230.30 L156.82,230.30 L157.19,230.30 L157.56,230.30 L157.94,230.30 L158.31,230.30 L158.68,230.30 L159.06,230.30 L159.43,230.30 L159.80,230.30 L160.18,230.30 L160.55,230.30 L160.92,230.30 L161.30,230.30 L161.67,230.30 L162.04,230.30 L162.42,230.30 L162.79,230.30 L163.16,230.30 L163.54,230.30 L163.91,230.30 L164.28,230.30 L164.66,230.30 L165.03,230.30 L165.40,230.30 L165.78,230.30 L166.15,230.30 L166.52,230.30 L166.90,230.30 L167.27,230.30 L167.64,230.30 L168.02,230.30 L168.39,230.30 L168.76,230.30 L169.14,230.30 L169.51,230.30 L169.88,230.30 L170.26,230.30 L170.63,230.30 L171.00,230.30 L171.38,230.30 L171.75,230.30 L172.12,230.30 L172.50,230.30 L172.87,230.30 L173.24,230.30 L173.62,230.30 L173.99,230.30 L174.36,230.30 L174.74,230.30 L175.11,230.30 L175.48,230.30 L175.86,230.30 L176.23,230.30 L176.61,230.30 L176.98,230.30 L177.35,230.30 L177.73,230.30 L178.10,230.30 L178.47,230.30 L178.85,230.30 L179.22,230.30 L179.59,230.30 L179.97,230.30 L180.34,230.30 L180.71,230.30 L181.09,230.30 L181.46,230.30 L181.83,230.30 L182.21,230.30 L182.58,230.30 L182.95,230.30 L183.33,230.30 L183.70,230.30 L184.07,230.30 L184.45,230.30 L184.82,230.30 L185.19,230.30 L185.57,230.30 L185.94,230.30 L186.31,230.30 L186.69,230.30 L187.06,230.30 L187.43,230.30 L187.81,230.30 L188.18,230.30 L188.55,230.30 L188.93,230.30 L189.30,230.30 L189.67,230.30 L190.05,230.30 L190.42,230.30 L190.79,230.30 L191.17,230.30 L191.54,230.30 L191.91,230.30 L192.29,230.30 L192.66,230.30 L193.03,230.30 L193.41,230.30 L193.78,230.30 L194.15,230.30 L194.53,230.30 L194.90,230.30 L195.27,230.30 L195.65,230.30 L196.02,230.30 L196.39,230.30 L196.77,230.30 L197.14,230.30 L197.52,230.30 L197.89,230.30 L198.26,230.30 L198.64,230.30 L199.01,230.30 L199.38,230.30 L199.76,230.30 L200.13,230.30 L200.50,230.30 L200.88,230.30 L201.25,230.30 L201.62,230.30 L202.00,230.30 L202.37,230.30 L202.74,230.30 L203.12,230.30 L203.49,230.30 L203.86,230.30 L204.24,230.30 L204.61,230.30 L204.98,230.30 L205.36,230.30 L205.73,230.30 L206.10,230.30 L206.48,230.30 L206.85,230.30 L207.22,230.30 L207.60,230.30 L207.97,230.30 L208.34,230.30 L208.72,230.30 L209.09,230.30 L209.46,230.30 L209.84,230.30 L210.21,230.30 L210.58,230.30 L210.96,230.30 L211.33,230.30 L211.70,230.30 L212.08,230.30 L212.45,230.30 L212.82,230.30 L213.20,230.30 L213.57,230.30 L213.94,230.30 L214.32,230.30 L214.69,230.30 L215.06,230.30 L215.44,230.30 L215.81,230.30 L216.18,230.30 L216.56,230.30 L216.93,230.30 L217.30,230.30 L217.68,230.30 L218.05,230.30 L218.42,230.30 L218.80,230.30 L219.17,230.30 L219.55,230.30 L219.92,230.30 L220.29,230.30 L220.67,230.30 L221.04,230.30 L221.41,230.30 L221.79,230.30 L222.16,230.30 L222.53,230.30 L222.91,230.30 L223.28,230.30 L223.65,230.30 L224.03,230.30 L224.40,230.30 L224.77,230.30 L225.15,230.30 L225.52,230.30 L225.89,230.30 L226.27,230.30 L226.64,230.30 L227.01,230.30 L227.39,230.30 L227.76,230.30 L228.13,230.30 L228.51,230.30 L228.88,230.30 L229.25,230.30 L229.63,230.30 L230.00,230.30 L230.37,230.30 L230.75,230.30 L231.12,230.30 L231.49,230.30 L231.87,230.30 L232.24,230.30 L232.61,230.30 L232.99,230.30 L233.36,230.30 L233.73,230.30 L234.11,230.30 L234.48,230.30 L234.85,230.30 L235.23,230.30 L235.60,230.30 L235.97,230.30 L236.35,230.30 L236.72,230.30 L237.09,230.30 L237.47,230.30 L237.84,230.30 L238.21,230.30 L238.59,230.30 L238.96,230.30 L239.33,230.30 L239.71,230.30 L240.08,230.30 L240.45,230.30 L240.83,230.30 L241.20,230.30 L241.58,230.30 L241.95,230.30 L242.32,230.30 L242.70,230.30 L243.07,230.30 L243.44,230.30 L243.82,230.30 L244.19,230.30 L244.56,230.30 L244.94,230.30 L245.31,230.30 L245.68,230.30 L246.06,230.30 L246.43,230.30 L246.80,230.30 L247.18,230.30 L247.55,230.30 L247.92,230.30 L248.30,230.30 L248.67,230.30 L249.04,230.30 L249.42,230.30 L249.79,230.30 L250.16,230.30 L250.54,230.30 L250.91,230.30 L251.28,230.30 L251.66,230.30 L252.03,230.30 L252.40,230.30 L252.78,230.30 L253.15,230.30 L253.52,230.30 L253.90,230.30 L254.27,230.30 L254.64,230.30 L255.02,230.30 L255.39,230.30 L255.76,230.30 L256.14,230.30 L256.51,230.30 L256.88,230.30 L257.26,230.30 L257.63,230.30 L258.00,230.30 L258.38,230.30 L258.75,230.30 L259.12,230.30 L259.50,230.30 L259.87,230.30 L260.24,230.30 L260.62,230.30 L260.99,230.30 L261.36,230.30 L261.74,230.30 L262.11,230.30 L262.48,230.30 L262.86,230.30 L263.23,230.30 L263.61,230.30 L263.98,230.30 L264.35,230.30 L264.73,230.30 L265.10,230.30 L265.47,230.30 L265.85,230.30 L266.22,230.30 L266.59,230.30 L266.97,230.30 L267.34,230.30 L267.71,230.30 L268.09,230.30 L268.46,230.30 L268.83,230.30 L269.21,230.30 L269.58,230.30 L269.95,230.30 L270.33,230.30 L270.70,229.88 L271.07,229.84 L271.45,229.80 L271.82,229.75 L272.19,229.70 L272.57,229.65 L272.94,229.59 L273.31,229.53 L273.69,229.47 L274.06,229.40 L274.43,229.32 L274.81,229.24 L275.18,229.15 L275.55,229.06 L275.93,228.96 L276.30,228.86 L276.67,228.74 L277.05,228.63 L277.42,228.50 L277.79,228.37 L278.17,228.23 L278.54,228.08 L278.91,227.92 L279.29,227.75 L279.66,227.58 L280.03,227.40 L280.41,227.20 L280.78,227.00 L281.15,226.79 L281.53,226.56 L281.90,226.33 L282.27,226.08 L282.65,225.82 L283.02,225.56 L283.39,225.28 L283.77,224.99 L284.14,224.68 L284.52,224.36 L284.89,224.02 L285.26,223.67 L285.64,223.30 L286.01,222.91 L286.38,222.50 L286.76,222.08 L287.13,221.63 L287.50,221.17 L287.88,220.69 L288.25,220.19 L288.62,219.66 L289.00,219.10 L289.37,218.51 L289.74,217.87 L290.12,217.18 L290.49,216.43 L290.86,215.61 L291.24,214.73 L291.61,213.78 L291.98,212.79 L292.36,211.75 L292.73,210.67 L293.10,209.58 L293.48,208.45 L293.85,207.25 L294.22,206.00 L294.60,204.71 L294.97,203.39 L295.34,202.06 L295.72,200.72 L296.09,199.41 L296.46,198.15 L296.84,196.92 L297.21,195.71 L297.58,194.51 L297.96,193.30 L298.33,192.06 L298.70,190.76 L299.08,189.38 L299.45,187.93 L299.82,186.43 L300.20,184.85 L300.57,183.21 L300.94,181.51 L301.32,179.74 L301.69,177.90 L302.06,176.00 L302.44,174.03 L302.81,172.00 L303.18,169.89 L303.56,167.73 L303.93,165.49 L304.30,163.20 L304.68,160.85 L305.05,158.43 L305.42,155.96 L305.80,153.44 L306.17,150.87 L306.55,148.26 L306.92,145.61 L307.29,142.92 L307.67,140.21 L308.04,137.47 L308.41,134.72 L308.79,131.97 L309.16,129.15 L309.53,126.25 L309.91,123.26 L310.28,120.20 L310.65,117.06 L311.03,113.86 L311.40,110.60 L311.77,107.29 L312.15,103.93 L312.52,100.53 L312.89,97.10 L313.27,93.66 L313.64,90.22 L314.01,86.78 L314.39,83.36 L314.76,79.98 L315.13,76.64 L315.51,73.38 L315.88,70.19 L316.25,67.10 L316.63,64.13 L317.00,61.30" stroke="#808080"/>
</g>
<line x1="55" y1="230.6" x2="292" y2="230.6" stroke="#000" stroke-width="2" stroke-opacity="0.7"/>
<g font-size="20">
<text transform="translate(80.00,250.50) scale(0.955,1)" text-anchor="middle">500</text>
<text transform="translate(138.75,250.50) scale(0.955,1)" text-anchor="middle">600</text>
<text transform="translate(197.50,250.50) scale(0.955,1)" text-anchor="middle">700</text>
<text transform="translate(256.25,250.50) scale(0.955,1)" text-anchor="middle">800</text>
<text transform="translate(315.00,250.50) scale(0.955,1)" text-anchor="middle">900</text>
<text transform="translate(51.00,237.10) scale(0.955,1)" text-anchor="end">0.0</text>
<text transform="translate(51.00,198.02) scale(0.955,1)" text-anchor="end">0.2</text>
<text transform="translate(51.00,158.94) scale(0.955,1)" text-anchor="end">0.4</text>
<text transform="translate(51.00,119.86) scale(0.955,1)" text-anchor="end">0.6</text>
<text transform="translate(51.00,80.78) scale(0.955,1)" text-anchor="end">0.8</text>
<text transform="translate(51.00,41.70) scale(0.955,1)" text-anchor="end">1.0</text>
</g>
<g font-size="14">
<line x1="58" y1="38.4" x2="91" y2="38.4" stroke="#000" stroke-width="3"/>
<text x="93.5" y="43.8">Absorption (abs.)</text>
<text x="93.5" y="61" font-style="italic">OI</text>
<text x="128.5" y="61">(<tspan font-style="italic">SS</tspan>)</text>
<line x1="58" y1="72.4" x2="91" y2="72.4" stroke="#0000ff" stroke-width="3"/>
<text x="93.5" y="78.0">29.2</text>
<text x="128.3" y="78.0">(25 nm)</text>
<line x1="58" y1="89.4" x2="91" y2="89.4" stroke="#ff0000" stroke-width="3"/>
<text x="93.5" y="95.0">12.6</text>
<text x="128.3" y="95.0">(50 nm)</text>
<line x1="58" y1="106.4" x2="91" y2="106.4" stroke="#008000" stroke-width="3"/>
<text x="93.5" y="112.0">3.4</text>
<text x="128.3" y="112.0">(75 nm)</text>
<line x1="58" y1="123.4" x2="91" y2="123.4" stroke="#808000" stroke-width="3"/>
<text x="93.5" y="129.0">0.6</text>
<text x="128.3" y="129.0">(100nm)</text>
<line x1="58" y1="140.4" x2="91" y2="140.4" stroke="#ff8000" stroke-width="3"/>
<text x="93.5" y="146.0">0.06</text>
<text x="128.3" y="146.0">(125 nm)</text>
<line x1="58" y1="157.4" x2="91" y2="157.4" stroke="#808080" stroke-width="3"/>
<text x="93.5" y="163.0">0.003</text>
<text x="128.3" y="163.0">(150 nm)</text>
</g>
<text x="14.2" y="17.1" font-size="22.5">(a)</text>
<text x="185.7" y="271.6" font-size="24.4" text-anchor="middle">Wavelength (nm)</text>
<text transform="translate(19,119.4) rotate(-90)" font-size="24.6" text-anchor="middle"><tspan font-style="italic">PL</tspan>, Absorption</text>

<!-- panel b -->
<g clip-path="url(#cb)" fill="none" stroke-width="3" stroke-linejoin="round">
<path d="M419.00,45.00 L419.05,46.76 L419.09,48.06 L419.14,49.90 L419.17,51.04 L419.25,53.83 L419.26,53.93 L419.34,56.75 L419.39,58.30 L419.43,59.48 L419.51,62.15 L419.54,63.14 L419.60,64.74 L419.68,67.26 L419.71,68.22 L419.77,69.72 L419.85,72.11 L419.90,73.43 L419.94,74.43 L420.02,76.70 L420.10,78.71 L420.11,78.90 L420.19,81.05 L420.28,83.14 L420.31,83.97 L420.36,85.17 L420.45,87.16 L420.53,89.09 L420.54,89.17 L420.62,90.97 L420.70,92.80 L420.77,94.26 L420.79,94.59 L420.87,96.33 L420.96,98.02 L421.02,99.22 L421.04,99.68 L421.13,101.29 L421.21,102.86 L421.28,104.00 L421.30,104.39 L421.38,105.89 L421.47,107.34 L421.54,108.61 L421.55,108.76 L421.64,110.15 L421.72,111.50 L421.81,112.82 L421.82,113.01 L421.89,114.11 L421.98,115.36 L422.06,116.59 L422.11,117.21 L422.15,117.79 L422.23,118.96 L422.32,120.10 L422.40,121.20 L422.40,121.21 L422.49,122.30 L422.57,123.36 L422.66,124.40 L422.71,124.98 L422.74,125.41 L422.83,126.40 L422.91,127.37 L423.00,128.31 L423.02,128.55 L423.08,129.23 L423.17,130.14 L423.25,131.02 L423.34,131.88 L423.34,131.91 L423.42,132.72 L423.51,133.55 L423.59,134.35 L423.67,135.07 L423.68,135.14 L423.76,135.91 L423.85,136.67 L423.93,137.41 L424.01,138.04 L424.02,138.13 L424.35,140.82 L424.71,143.43 L425.07,145.87 L425.44,148.16 L425.81,150.29 L426.19,152.29 L426.58,154.16 L426.98,155.91 L427.38,157.54 L427.79,159.08 L428.20,160.52 L428.62,161.87 L429.05,163.14 L429.49,164.34 L429.93,165.47 L430.37,166.53 L430.82,167.54 L431.28,168.50 L431.75,169.41 L432.21,170.27 L432.69,171.10 L433.17,171.88 L433.65,172.64 L434.15,173.36 L434.64,174.06 L435.14,174.73 L435.65,175.37 L436.16,175.99 L436.68,176.60 L437.20,177.18 L437.73,177.75 L438.26,178.30 L438.80,178.84 L439.34,179.36 L439.89,179.88 L440.44,180.38 L441.00,180.86 L441.56,181.34 L442.13,181.81 L442.70,182.27 L443.28,182.72 L443.86,183.16 L444.44,183.60 L445.03,184.03 L445.62,184.45 L446.22,184.86 L446.83,185.27 L447.43,185.67 L448.04,186.07 L448.66,186.46 L449.28,186.85 L449.90,187.23 L450.53,187.60 L451.17,187.97 L451.80,188.34 L452.44,188.70 L453.09,189.05 L453.74,189.40 L454.39,189.75 L455.05,190.09 L455.71,190.43 L456.38,190.77 L457.04,191.10 L457.72,191.42 L458.40,191.74 L459.08,192.06 L459.76,192.38 L460.45,192.69 L461.14,193.00 L461.84,193.30 L462.54,193.60 L463.24,193.90 L463.95,194.19 L464.66,194.48 L465.38,194.77 L466.10,195.05 L466.82,195.33 L467.55,195.61 L468.28,195.88 L469.01,196.16 L469.75,196.42 L470.49,196.69 L471.23,196.95 L471.98,197.21 L472.73,197.46 L473.49,197.72 L474.25,197.97 L475.01,198.22 L475.77,198.46 L476.54,198.70 L477.32,198.94 L478.09,199.18 L478.87,199.41 L479.65,199.64 L480.44,199.87 L481.23,200.10 L482.02,200.32 L482.82,200.54 L483.62,200.76 L484.42,200.98 L485.23,201.19 L486.03,201.40 L486.85,201.61 L487.66,201.82 L488.48,202.02 L489.30,202.23 L490.13,202.43 L490.96,202.62 L491.79,202.82 L492.63,203.01 L493.46,203.21 L494.31,203.40 L495.15,203.58 L496.00,203.77 L496.85,203.95 L497.70,204.14 L498.56,204.31 L499.42,204.49 L500.28,204.67 L501.15,204.84 L502.02,205.02 L502.89,205.19 L503.77,205.35 L504.64,205.52 L505.53,205.69 L506.41,205.85 L507.30,206.01 L508.19,206.17 L509.08,206.33 L509.98,206.49 L510.88,206.64 L511.78,206.79 L512.68,206.95 L513.59,207.10 L514.50,207.25 L515.42,207.39 L516.33,207.54 L517.25,207.68 L518.18,207.83 L519.10,207.97 L520.03,208.11 L520.96,208.25 L521.89,208.38 L522.83,208.52 L523.77,208.65 L524.71,208.79 L525.66,208.92 L526.61,209.05 L527.56,209.18 L528.51,209.31 L529.47,209.43 L530.43,209.56 L531.39,209.68 L532.35,209.80 L533.32,209.93 L534.29,210.05 L535.26,210.17 L536.24,210.28 L537.22,210.40 L538.20,210.52 L539.18,210.63 L540.17,210.75 L541.16,210.86 L542.15,210.97 L543.15,211.08 L544.14,211.19 L545.14,211.30 L546.14,211.41 L547.15,211.51 L548.16,211.62 L549.17,211.72 L550.18,211.82 L551.20,211.93 L552.21,212.03 L553.24,212.13 L554.26,212.23 L555.28,212.33 L556.31,212.43 L557.34,212.52 L558.38,212.62 L559.41,212.71 L560.45,212.81 L561.49,212.90 L562.54,212.99 L563.58,213.09 L564.63,213.18 L565.69,213.27 L566.74,213.36 L567.80,213.44 L568.85,213.53 L569.92,213.62 L570.98,213.71 L572.05,213.79 L573.12,213.88 L574.19,213.96 L575.26,214.04 L576.34,214.12 L577.42,214.21 L578.50,214.29 L579.58,214.37 L580.67,214.45 L581.76,214.53 L582.85,214.60 L583.94,214.68 L585.04,214.76 L586.14,214.84 L587.24,214.91 L588.34,214.99 L589.45,215.06 L590.55,215.13 L591.66,215.21 L592.78,215.28 L593.89,215.35 L595.01,215.42 L596.13,215.49 L597.25,215.56 L598.38,215.63 L599.50,215.70 L600.63,215.77 L601.76,215.84 L602.90,215.91 L604.03,215.97 L605.17,216.04 L606.31,216.10 L607.46,216.17 L608.60,216.23 L609.75,216.30 L610.90,216.36 L612.05,216.42 L613.21,216.49 L614.37,216.55 L615.52,216.61 L616.69,216.67 L617.85,216.73 L619.02,216.79 L620.19,216.85 L621.36,216.91 L622.53,216.97 L623.70,217.03 L624.88,217.08 L626.06,217.14 L627.24,217.20 L628.43,217.26 L629.62,217.31 L630.80,217.37 L631.99,217.42 L633.19,217.48 L634.38,217.53 L635.58,217.58 L636.78,217.64 L637.98,217.69 L639.19,217.74 L640.39,217.80 L641.60,217.85 L642.81,217.90 L644.03,217.95 L645.24,218.00 L646.46,218.05 L647.68,218.10 L648.90,218.15 L650.12,218.20 L651.35,218.25 L652.58,218.30 L653.81,218.34 L655.04,218.39 L656.28,218.44 L657.51,218.49 L658.75,218.53 L659.99,218.58 L661.24,218.63 L662.48,218.67 L663.73,218.72 L664.98,218.76 L666.23,218.81 L667.49,218.85 L668.74,218.90 L670.00,218.94" stroke="#0000ff"/><path d="M419.00,45.00 L419.05,47.15 L419.09,48.57 L419.14,50.37 L419.17,51.39 L419.25,53.63 L419.26,53.71 L419.34,55.68 L419.39,56.67 L419.43,57.39 L419.51,58.90 L419.54,59.44 L419.60,60.26 L419.68,61.49 L419.71,61.93 L419.77,62.61 L419.85,63.65 L419.90,64.20 L419.94,64.61 L420.02,65.51 L420.10,66.28 L420.11,66.36 L420.19,67.15 L420.28,67.91 L420.31,68.20 L420.36,68.62 L420.45,69.31 L420.53,69.96 L420.54,69.99 L420.62,70.58 L420.70,71.19 L420.77,71.66 L420.79,71.76 L420.87,72.32 L420.96,72.86 L421.02,73.24 L421.04,73.38 L421.13,73.89 L421.21,74.38 L421.28,74.74 L421.30,74.86 L421.38,75.32 L421.47,75.77 L421.54,76.17 L421.55,76.22 L421.64,76.65 L421.72,77.07 L421.81,77.48 L421.82,77.54 L421.89,77.88 L421.98,78.28 L422.06,78.66 L422.11,78.86 L422.15,79.04 L422.23,79.41 L422.32,79.78 L422.40,80.14 L422.40,80.14 L422.49,80.49 L422.57,80.84 L422.66,81.18 L422.71,81.37 L422.74,81.52 L422.83,81.85 L422.91,82.17 L423.00,82.49 L423.02,82.58 L423.08,82.81 L423.17,83.12 L423.25,83.43 L423.34,83.74 L423.34,83.75 L423.42,84.04 L423.51,84.33 L423.59,84.63 L423.67,84.89 L423.68,84.92 L423.76,85.20 L423.85,85.49 L423.93,85.77 L424.01,86.01 L424.02,86.04 L424.35,87.10 L424.71,88.18 L425.07,89.24 L425.44,90.27 L425.81,91.30 L426.19,92.30 L426.58,93.29 L426.98,94.27 L427.38,95.24 L427.79,96.19 L428.20,97.13 L428.62,98.06 L429.05,98.98 L429.49,99.89 L429.93,100.79 L430.37,101.68 L430.82,102.56 L431.28,103.43 L431.75,104.29 L432.21,105.14 L432.69,105.98 L433.17,106.82 L433.65,107.64 L434.15,108.46 L434.64,109.27 L435.14,110.07 L435.65,110.86 L436.16,111.65 L436.68,112.43 L437.20,113.20 L437.73,113.96 L438.26,114.71 L438.80,115.46 L439.34,116.20 L439.89,116.93 L440.44,117.66 L441.00,118.38 L441.56,119.09 L442.13,119.79 L442.70,120.49 L443.28,121.18 L443.86,121.87 L444.44,122.54 L445.03,123.21 L445.62,123.88 L446.22,124.54 L446.83,125.19 L447.43,125.83 L448.04,126.47 L448.66,127.10 L449.28,127.73 L449.90,128.35 L450.53,128.96 L451.17,129.57 L451.80,130.17 L452.44,130.76 L453.09,131.35 L453.74,131.94 L454.39,132.52 L455.05,133.09 L455.71,133.66 L456.38,134.22 L457.04,134.77 L457.72,135.32 L458.40,135.87 L459.08,136.41 L459.76,136.94 L460.45,137.47 L461.14,137.99 L461.84,138.51 L462.54,139.03 L463.24,139.54 L463.95,140.04 L464.66,140.54 L465.38,141.03 L466.10,141.52 L466.82,142.01 L467.55,142.49 L468.28,142.96 L469.01,143.43 L469.75,143.90 L470.49,144.36 L471.23,144.82 L471.98,145.27 L472.73,145.72 L473.49,146.16 L474.25,146.60 L475.01,147.04 L475.77,147.47 L476.54,147.90 L477.32,148.32 L478.09,148.74 L478.87,149.16 L479.65,149.57 L480.44,149.98 L481.23,150.38 L482.02,150.78 L482.82,151.18 L483.62,151.57 L484.42,151.96 L485.23,152.35 L486.03,152.73 L486.85,153.11 L487.66,153.49 L488.48,153.86 L489.30,154.23 L490.13,154.59 L490.96,154.95 L491.79,155.31 L492.63,155.67 L493.46,156.02 L494.31,156.37 L495.15,156.71 L496.00,157.06 L496.85,157.40 L497.70,157.73 L498.56,158.07 L499.42,158.40 L500.28,158.72 L501.15,159.05 L502.02,159.37 L502.89,159.69 L503.77,160.01 L504.64,160.32 L505.53,160.63 L506.41,160.94 L507.30,161.25 L508.19,161.55 L509.08,161.85 L509.98,162.15 L510.88,162.44 L511.78,162.74 L512.68,163.03 L513.59,163.31 L514.50,163.60 L515.42,163.88 L516.33,164.16 L517.25,164.44 L518.18,164.72 L519.10,164.99 L520.03,165.26 L520.96,165.53 L521.89,165.80 L522.83,166.06 L523.77,166.33 L524.71,166.59 L525.66,166.85 L526.61,167.10 L527.56,167.36 L528.51,167.61 L529.47,167.86 L530.43,168.11 L531.39,168.35 L532.35,168.60 L533.32,168.84 L534.29,169.08 L535.26,169.32 L536.24,169.55 L537.22,169.79 L538.20,170.02 L539.18,170.25 L540.17,170.48 L541.16,170.71 L542.15,170.93 L543.15,171.16 L544.14,171.38 L545.14,171.60 L546.14,171.82 L547.15,172.04 L548.16,172.25 L549.17,172.47 L550.18,172.68 L551.20,172.89 L552.21,173.10 L553.24,173.30 L554.26,173.51 L555.28,173.71 L556.31,173.92 L557.34,174.12 L558.38,174.32 L559.41,174.52 L560.45,174.71 L561.49,174.91 L562.54,175.10 L563.58,175.30 L564.63,175.49 L565.69,175.68 L566.74,175.87 L567.80,176.05 L568.85,176.24 L569.92,176.42 L570.98,176.61 L572.05,176.79 L573.12,176.97 L574.19,177.15 L575.26,177.33 L576.34,177.50 L577.42,177.68 L578.50,177.85 L579.58,178.02 L580.67,178.20 L581.76,178.37 L582.85,178.54 L583.94,178.70 L585.04,178.87 L586.14,179.04 L587.24,179.20 L588.34,179.37 L589.45,179.53 L590.55,179.69 L591.66,179.85 L592.78,180.01 L593.89,180.17 L595.01,180.33 L596.13,180.48 L597.25,180.64 L598.38,180.79 L599.50,180.94 L600.63,181.10 L601.76,181.25 L602.90,181.40 L604.03,181.55 L605.17,181.69 L606.31,181.84 L607.46,181.99 L608.60,182.13 L609.75,182.28 L610.90,182.42 L612.05,182.56 L613.21,182.70 L614.37,182.84 L615.52,182.98 L616.69,183.12 L617.85,183.26 L619.02,183.40 L620.19,183.53 L621.36,183.67 L622.53,183.80 L623.70,183.94 L624.88,184.07 L626.06,184.20 L627.24,184.33 L628.43,184.46 L629.62,184.59 L630.80,184.72 L631.99,184.85 L633.19,184.98 L634.38,185.10 L635.58,185.23 L636.78,185.35 L637.98,185.48 L639.19,185.60 L640.39,185.72 L641.60,185.85 L642.81,185.97 L644.03,186.09 L645.24,186.21 L646.46,186.33 L647.68,186.44 L648.90,186.56 L650.12,186.68 L651.35,186.79 L652.58,186.91 L653.81,187.02 L655.04,187.14 L656.28,187.25 L657.51,187.37 L658.75,187.48 L659.99,187.59 L661.24,187.70 L662.48,187.81 L663.73,187.92 L664.98,188.03 L666.23,188.14 L667.49,188.24 L668.74,188.35 L670.00,188.46" stroke="#ff0000"/><path d="M419.00,45.00 L419.05,45.15 L419.09,45.26 L419.14,45.41 L419.17,45.51 L419.25,45.75 L419.26,45.75 L419.34,46.00 L419.39,46.13 L419.43,46.23 L419.51,46.47 L419.54,46.55 L419.60,46.70 L419.68,46.92 L419.71,47.01 L419.77,47.14 L419.85,47.36 L419.90,47.49 L419.94,47.58 L420.02,47.79 L420.10,47.98 L420.11,48.00 L420.19,48.20 L420.28,48.41 L420.31,48.49 L420.36,48.61 L420.45,48.80 L420.53,49.00 L420.54,49.01 L420.62,49.19 L420.70,49.38 L420.77,49.53 L420.79,49.57 L420.87,49.75 L420.96,49.93 L421.02,50.06 L421.04,50.11 L421.13,50.29 L421.21,50.46 L421.28,50.59 L421.30,50.64 L421.38,50.81 L421.47,50.98 L421.54,51.13 L421.55,51.14 L421.64,51.31 L421.72,51.47 L421.81,51.63 L421.82,51.66 L421.89,51.79 L421.98,51.95 L422.06,52.11 L422.11,52.19 L422.15,52.26 L422.23,52.42 L422.32,52.57 L422.40,52.72 L422.40,52.72 L422.49,52.87 L422.57,53.02 L422.66,53.16 L422.71,53.25 L422.74,53.31 L422.83,53.45 L422.91,53.59 L423.00,53.74 L423.02,53.77 L423.08,53.87 L423.17,54.01 L423.25,54.15 L423.34,54.29 L423.34,54.29 L423.42,54.42 L423.51,54.56 L423.59,54.69 L423.67,54.81 L423.68,54.82 L423.76,54.95 L423.85,55.08 L423.93,55.21 L424.01,55.32 L424.02,55.34 L424.35,55.83 L424.71,56.33 L425.07,56.83 L425.44,57.33 L425.81,57.82 L426.19,58.31 L426.58,58.79 L426.98,59.26 L427.38,59.74 L427.79,60.21 L428.20,60.67 L428.62,61.13 L429.05,61.59 L429.49,62.04 L429.93,62.49 L430.37,62.94 L430.82,63.38 L431.28,63.82 L431.75,64.26 L432.21,64.69 L432.69,65.12 L433.17,65.54 L433.65,65.97 L434.15,66.39 L434.64,66.80 L435.14,67.22 L435.65,67.63 L436.16,68.04 L436.68,68.44 L437.20,68.85 L437.73,69.25 L438.26,69.64 L438.80,70.04 L439.34,70.43 L439.89,70.83 L440.44,71.22 L441.00,71.60 L441.56,71.99 L442.13,72.37 L442.70,72.75 L443.28,73.13 L443.86,73.51 L444.44,73.88 L445.03,74.26 L445.62,74.63 L446.22,75.00 L446.83,75.36 L447.43,75.73 L448.04,76.09 L448.66,76.46 L449.28,76.82 L449.90,77.18 L450.53,77.53 L451.17,77.89 L451.80,78.24 L452.44,78.60 L453.09,78.95 L453.74,79.30 L454.39,79.65 L455.05,79.99 L455.71,80.34 L456.38,80.68 L457.04,81.03 L457.72,81.37 L458.40,81.71 L459.08,82.05 L459.76,82.38 L460.45,82.72 L461.14,83.05 L461.84,83.39 L462.54,83.72 L463.24,84.05 L463.95,84.38 L464.66,84.71 L465.38,85.03 L466.10,85.36 L466.82,85.68 L467.55,86.01 L468.28,86.33 L469.01,86.65 L469.75,86.97 L470.49,87.29 L471.23,87.60 L471.98,87.92 L472.73,88.23 L473.49,88.55 L474.25,88.86 L475.01,89.17 L475.77,89.48 L476.54,89.79 L477.32,90.09 L478.09,90.40 L478.87,90.71 L479.65,91.01 L480.44,91.31 L481.23,91.61 L482.02,91.91 L482.82,92.21 L483.62,92.51 L484.42,92.81 L485.23,93.10 L486.03,93.40 L486.85,93.69 L487.66,93.99 L488.48,94.28 L489.30,94.57 L490.13,94.86 L490.96,95.14 L491.79,95.43 L492.63,95.72 L493.46,96.00 L494.31,96.29 L495.15,96.57 L496.00,96.85 L496.85,97.13 L497.70,97.41 L498.56,97.69 L499.42,97.96 L500.28,98.24 L501.15,98.51 L502.02,98.79 L502.89,99.06 L503.77,99.33 L504.64,99.60 L505.53,99.87 L506.41,100.14 L507.30,100.41 L508.19,100.67 L509.08,100.94 L509.98,101.20 L510.88,101.47 L511.78,101.73 L512.68,101.99 L513.59,102.25 L514.50,102.51 L515.42,102.76 L516.33,103.02 L517.25,103.28 L518.18,103.53 L519.10,103.78 L520.03,104.04 L520.96,104.29 L521.89,104.54 L522.83,104.79 L523.77,105.03 L524.71,105.28 L525.66,105.53 L526.61,105.77 L527.56,106.02 L528.51,106.26 L529.47,106.50 L530.43,106.74 L531.39,106.98 L532.35,107.22 L533.32,107.46 L534.29,107.69 L535.26,107.93 L536.24,108.16 L537.22,108.40 L538.20,108.63 L539.18,108.86 L540.17,109.09 L541.16,109.32 L542.15,109.55 L543.15,109.78 L544.14,110.00 L545.14,110.23 L546.14,110.45 L547.15,110.68 L548.16,110.90 L549.17,111.12 L550.18,111.34 L551.20,111.56 L552.21,111.78 L553.24,111.99 L554.26,112.21 L555.28,112.43 L556.31,112.64 L557.34,112.85 L558.38,113.07 L559.41,113.28 L560.45,113.49 L561.49,113.70 L562.54,113.90 L563.58,114.11 L564.63,114.32 L565.69,114.52 L566.74,114.73 L567.80,114.93 L568.85,115.13 L569.92,115.34 L570.98,115.54 L572.05,115.74 L573.12,115.93 L574.19,116.13 L575.26,116.33 L576.34,116.53 L577.42,116.72 L578.50,116.91 L579.58,117.11 L580.67,117.30 L581.76,117.49 L582.85,117.68 L583.94,117.87 L585.04,118.06 L586.14,118.25 L587.24,118.43 L588.34,118.62 L589.45,118.80 L590.55,118.99 L591.66,119.17 L592.78,119.35 L593.89,119.53 L595.01,119.71 L596.13,119.89 L597.25,120.07 L598.38,120.25 L599.50,120.42 L600.63,120.60 L601.76,120.77 L602.90,120.95 L604.03,121.12 L605.17,121.29 L606.31,121.46 L607.46,121.63 L608.60,121.80 L609.75,121.97 L610.90,122.14 L612.05,122.31 L613.21,122.47 L614.37,122.64 L615.52,122.80 L616.69,122.97 L617.85,123.13 L619.02,123.29 L620.19,123.45 L621.36,123.61 L622.53,123.77 L623.70,123.93 L624.88,124.09 L626.06,124.24 L627.24,124.40 L628.43,124.56 L629.62,124.71 L630.80,124.86 L631.99,125.02 L633.19,125.17 L634.38,125.32 L635.58,125.47 L636.78,125.62 L637.98,125.77 L639.19,125.92 L640.39,126.06 L641.60,126.21 L642.81,126.36 L644.03,126.50 L645.24,126.65 L646.46,126.79 L647.68,126.93 L648.90,127.07 L650.12,127.22 L651.35,127.36 L652.58,127.50 L653.81,127.63 L655.04,127.77 L656.28,127.91 L657.51,128.05 L658.75,128.18 L659.99,128.32 L661.24,128.45 L662.48,128.59 L663.73,128.72 L664.98,128.85 L666.23,128.98 L667.49,129.11 L668.74,129.24 L670.00,129.37" stroke="#008000"/><path d="M419.00,45.00 L419.05,45.09 L419.09,45.13 L419.14,45.19 L419.17,45.22 L419.25,45.29 L419.26,45.29 L419.34,45.36 L419.39,45.40 L419.43,45.43 L419.51,45.49 L419.54,45.51 L419.60,45.55 L419.68,45.60 L419.71,45.62 L419.77,45.66 L419.85,45.71 L419.90,45.74 L419.94,45.76 L420.02,45.81 L420.10,45.85 L420.11,45.85 L420.19,45.90 L420.28,45.95 L420.31,45.97 L420.36,45.99 L420.45,46.04 L420.53,46.08 L420.54,46.08 L420.62,46.12 L420.70,46.17 L420.77,46.20 L420.79,46.21 L420.87,46.25 L420.96,46.29 L421.02,46.32 L421.04,46.33 L421.13,46.37 L421.21,46.41 L421.28,46.44 L421.30,46.45 L421.38,46.49 L421.47,46.52 L421.54,46.56 L421.55,46.56 L421.64,46.60 L421.72,46.64 L421.81,46.67 L421.82,46.68 L421.89,46.71 L421.98,46.74 L422.06,46.78 L422.11,46.80 L422.15,46.81 L422.23,46.85 L422.32,46.88 L422.40,46.92 L422.40,46.92 L422.49,46.95 L422.57,46.99 L422.66,47.02 L422.71,47.04 L422.74,47.05 L422.83,47.09 L422.91,47.12 L423.00,47.15 L423.02,47.16 L423.08,47.19 L423.17,47.22 L423.25,47.25 L423.34,47.28 L423.34,47.28 L423.42,47.31 L423.51,47.34 L423.59,47.38 L423.67,47.40 L423.68,47.41 L423.76,47.44 L423.85,47.47 L423.93,47.50 L424.01,47.53 L424.02,47.53 L424.35,47.65 L424.71,47.77 L425.07,47.89 L425.44,48.02 L425.81,48.14 L426.19,48.26 L426.58,48.39 L426.98,48.51 L427.38,48.63 L427.79,48.76 L428.20,48.88 L428.62,49.00 L429.05,49.13 L429.49,49.25 L429.93,49.37 L430.37,49.50 L430.82,49.62 L431.28,49.74 L431.75,49.87 L432.21,49.99 L432.69,50.11 L433.17,50.24 L433.65,50.36 L434.15,50.48 L434.64,50.61 L435.14,50.73 L435.65,50.85 L436.16,50.97 L436.68,51.10 L437.20,51.22 L437.73,51.34 L438.26,51.46 L438.80,51.58 L439.34,51.71 L439.89,51.83 L440.44,51.95 L441.00,52.07 L441.56,52.19 L442.13,52.31 L442.70,52.44 L443.28,52.56 L443.86,52.68 L444.44,52.80 L445.03,52.92 L445.62,53.04 L446.22,53.16 L446.83,53.28 L447.43,53.40 L448.04,53.52 L448.66,53.64 L449.28,53.76 L449.90,53.88 L450.53,54.00 L451.17,54.11 L451.80,54.23 L452.44,54.35 L453.09,54.47 L453.74,54.59 L454.39,54.71 L455.05,54.82 L455.71,54.94 L456.38,55.06 L457.04,55.18 L457.72,55.29 L458.40,55.41 L459.08,55.53 L459.76,55.64 L460.45,55.76 L461.14,55.88 L461.84,55.99 L462.54,56.11 L463.24,56.22 L463.95,56.34 L464.66,56.45 L465.38,56.57 L466.10,56.68 L466.82,56.80 L467.55,56.91 L468.28,57.03 L469.01,57.14 L469.75,57.26 L470.49,57.37 L471.23,57.48 L471.98,57.60 L472.73,57.71 L473.49,57.82 L474.25,57.93 L475.01,58.05 L475.77,58.16 L476.54,58.27 L477.32,58.38 L478.09,58.50 L478.87,58.61 L479.65,58.72 L480.44,58.83 L481.23,58.94 L482.02,59.05 L482.82,59.16 L483.62,59.27 L484.42,59.38 L485.23,59.49 L486.03,59.60 L486.85,59.71 L487.66,59.82 L488.48,59.93 L489.30,60.04 L490.13,60.15 L490.96,60.26 L491.79,60.36 L492.63,60.47 L493.46,60.58 L494.31,60.69 L495.15,60.80 L496.00,60.90 L496.85,61.01 L497.70,61.12 L498.56,61.22 L499.42,61.33 L500.28,61.44 L501.15,61.54 L502.02,61.65 L502.89,61.76 L503.77,61.86 L504.64,61.97 L505.53,62.07 L506.41,62.18 L507.30,62.28 L508.19,62.39 L509.08,62.49 L509.98,62.60 L510.88,62.70 L511.78,62.80 L512.68,62.91 L513.59,63.01 L514.50,63.11 L515.42,63.22 L516.33,63.32 L517.25,63.42 L518.18,63.53 L519.10,63.63 L520.03,63.73 L520.96,63.83 L521.89,63.93 L522.83,64.03 L523.77,64.14 L524.71,64.24 L525.66,64.34 L526.61,64.44 L527.56,64.54 L528.51,64.64 L529.47,64.74 L530.43,64.84 L531.39,64.94 L532.35,65.04 L533.32,65.14 L534.29,65.24 L535.26,65.34 L536.24,65.44 L537.22,65.54 L538.20,65.63 L539.18,65.73 L540.17,65.83 L541.16,65.93 L542.15,66.03 L543.15,66.12 L544.14,66.22 L545.14,66.32 L546.14,66.42 L547.15,66.51 L548.16,66.61 L549.17,66.71 L550.18,66.80 L551.20,66.90 L552.21,67.00 L553.24,67.09 L554.26,67.19 L555.28,67.28 L556.31,67.38 L557.34,67.47 L558.38,67.57 L559.41,67.66 L560.45,67.76 L561.49,67.85 L562.54,67.95 L563.58,68.04 L564.63,68.13 L565.69,68.23 L566.74,68.32 L567.80,68.42 L568.85,68.51 L569.92,68.60 L570.98,68.69 L572.05,68.79 L573.12,68.88 L574.19,68.97 L575.26,69.06 L576.34,69.16 L577.42,69.25 L578.50,69.34 L579.58,69.43 L580.67,69.52 L581.76,69.61 L582.85,69.70 L583.94,69.80 L585.04,69.89 L586.14,69.98 L587.24,70.07 L588.34,70.16 L589.45,70.25 L590.55,70.34 L591.66,70.43 L592.78,70.52 L593.89,70.61 L595.01,70.69 L596.13,70.78 L597.25,70.87 L598.38,70.96 L599.50,71.05 L600.63,71.14 L601.76,71.23 L602.90,71.31 L604.03,71.40 L605.17,71.49 L606.31,71.58 L607.46,71.67 L608.60,71.75 L609.75,71.84 L610.90,71.93 L612.05,72.01 L613.21,72.10 L614.37,72.19 L615.52,72.27 L616.69,72.36 L617.85,72.45 L619.02,72.53 L620.19,72.62 L621.36,72.70 L622.53,72.79 L623.70,72.87 L624.88,72.96 L626.06,73.04 L627.24,73.13 L628.43,73.21 L629.62,73.30 L630.80,73.38 L631.99,73.47 L633.19,73.55 L634.38,73.63 L635.58,73.72 L636.78,73.80 L637.98,73.88 L639.19,73.97 L640.39,74.05 L641.60,74.13 L642.81,74.22 L644.03,74.30 L645.24,74.38 L646.46,74.46 L647.68,74.55 L648.90,74.63 L650.12,74.71 L651.35,74.79 L652.58,74.87 L653.81,74.96 L655.04,75.04 L656.28,75.12 L657.51,75.20 L658.75,75.28 L659.99,75.36 L661.24,75.44 L662.48,75.52 L663.73,75.60 L664.98,75.68 L666.23,75.76 L667.49,75.84 L668.74,75.92 L670.00,76.00" stroke="#808000"/><path d="M419.00,45.00 L419.05,45.02 L419.09,45.03 L419.14,45.04 L419.17,45.05 L419.25,45.06 L419.26,45.06 L419.34,45.08 L419.39,45.09 L419.43,45.09 L419.51,45.10 L419.54,45.11 L419.60,45.12 L419.68,45.13 L419.71,45.13 L419.77,45.14 L419.85,45.15 L419.90,45.16 L419.94,45.16 L420.02,45.17 L420.10,45.18 L420.11,45.18 L420.19,45.19 L420.28,45.20 L420.31,45.20 L420.36,45.21 L420.45,45.22 L420.53,45.23 L420.54,45.23 L420.62,45.24 L420.70,45.24 L420.77,45.25 L420.79,45.25 L420.87,45.26 L420.96,45.27 L421.02,45.28 L421.04,45.28 L421.13,45.29 L421.21,45.29 L421.28,45.30 L421.30,45.30 L421.38,45.31 L421.47,45.32 L421.54,45.32 L421.55,45.32 L421.64,45.33 L421.72,45.34 L421.81,45.35 L421.82,45.35 L421.89,45.35 L421.98,45.36 L422.06,45.37 L422.11,45.37 L422.15,45.38 L422.23,45.38 L422.32,45.39 L422.40,45.40 L422.40,45.40 L422.49,45.40 L422.57,45.41 L422.66,45.42 L422.71,45.42 L422.74,45.42 L422.83,45.43 L422.91,45.44 L423.00,45.45 L423.02,45.45 L423.08,45.45 L423.17,45.46 L423.25,45.46 L423.34,45.47 L423.34,45.47 L423.42,45.48 L423.51,45.48 L423.59,45.49 L423.67,45.50 L423.68,45.50 L423.76,45.50 L423.85,45.51 L423.93,45.52 L424.01,45.52 L424.02,45.52 L424.35,45.55 L424.71,45.57 L425.07,45.60 L425.44,45.62 L425.81,45.65 L426.19,45.67 L426.58,45.70 L426.98,45.72 L427.38,45.75 L427.79,45.77 L428.20,45.80 L428.62,45.82 L429.05,45.85 L429.49,45.88 L429.93,45.90 L430.37,45.93 L430.82,45.95 L431.28,45.98 L431.75,46.00 L432.21,46.03 L432.69,46.06 L433.17,46.08 L433.65,46.11 L434.15,46.13 L434.64,46.16 L435.14,46.19 L435.65,46.21 L436.16,46.24 L436.68,46.26 L437.20,46.29 L437.73,46.32 L438.26,46.34 L438.80,46.37 L439.34,46.39 L439.89,46.42 L440.44,46.45 L441.00,46.47 L441.56,46.50 L442.13,46.52 L442.70,46.55 L443.28,46.58 L443.86,46.60 L444.44,46.63 L445.03,46.66 L445.62,46.68 L446.22,46.71 L446.83,46.73 L447.43,46.76 L448.04,46.79 L448.66,46.81 L449.28,46.84 L449.90,46.87 L450.53,46.89 L451.17,46.92 L451.80,46.95 L452.44,46.97 L453.09,47.00 L453.74,47.03 L454.39,47.05 L455.05,47.08 L455.71,47.11 L456.38,47.13 L457.04,47.16 L457.72,47.19 L458.40,47.21 L459.08,47.24 L459.76,47.27 L460.45,47.29 L461.14,47.32 L461.84,47.35 L462.54,47.37 L463.24,47.40 L463.95,47.43 L464.66,47.45 L465.38,47.48 L466.10,47.51 L466.82,47.53 L467.55,47.56 L468.28,47.59 L469.01,47.61 L469.75,47.64 L470.49,47.67 L471.23,47.69 L471.98,47.72 L472.73,47.75 L473.49,47.77 L474.25,47.80 L475.01,47.83 L475.77,47.85 L476.54,47.88 L477.32,47.91 L478.09,47.94 L478.87,47.96 L479.65,47.99 L480.44,48.02 L481.23,48.04 L482.02,48.07 L482.82,48.10 L483.62,48.12 L484.42,48.15 L485.23,48.18 L486.03,48.20 L486.85,48.23 L487.66,48.26 L488.48,48.29 L489.30,48.31 L490.13,48.34 L490.96,48.37 L491.79,48.39 L492.63,48.42 L493.46,48.45 L494.31,48.47 L495.15,48.50 L496.00,48.53 L496.85,48.56 L497.70,48.58 L498.56,48.61 L499.42,48.64 L500.28,48.66 L501.15,48.69 L502.02,48.72 L502.89,48.75 L503.77,48.77 L504.64,48.80 L505.53,48.83 L506.41,48.85 L507.30,48.88 L508.19,48.91 L509.08,48.94 L509.98,48.96 L510.88,48.99 L511.78,49.02 L512.68,49.04 L513.59,49.07 L514.50,49.10 L515.42,49.13 L516.33,49.15 L517.25,49.18 L518.18,49.21 L519.10,49.23 L520.03,49.26 L520.96,49.29 L521.89,49.32 L522.83,49.34 L523.77,49.37 L524.71,49.40 L525.66,49.42 L526.61,49.45 L527.56,49.48 L528.51,49.51 L529.47,49.53 L530.43,49.56 L531.39,49.59 L532.35,49.62 L533.32,49.64 L534.29,49.67 L535.26,49.70 L536.24,49.72 L537.22,49.75 L538.20,49.78 L539.18,49.81 L540.17,49.83 L541.16,49.86 L542.15,49.89 L543.15,49.92 L544.14,49.94 L545.14,49.97 L546.14,50.00 L547.15,50.02 L548.16,50.05 L549.17,50.08 L550.18,50.11 L551.20,50.13 L552.21,50.16 L553.24,50.19 L554.26,50.22 L555.28,50.24 L556.31,50.27 L557.34,50.30 L558.38,50.33 L559.41,50.35 L560.45,50.38 L561.49,50.41 L562.54,50.43 L563.58,50.46 L564.63,50.49 L565.69,50.52 L566.74,50.54 L567.80,50.57 L568.85,50.60 L569.92,50.63 L570.98,50.65 L572.05,50.68 L573.12,50.71 L574.19,50.74 L575.26,50.76 L576.34,50.79 L577.42,50.82 L578.50,50.84 L579.58,50.87 L580.67,50.90 L581.76,50.93 L582.85,50.95 L583.94,50.98 L585.04,51.01 L586.14,51.04 L587.24,51.06 L588.34,51.09 L589.45,51.12 L590.55,51.15 L591.66,51.17 L592.78,51.20 L593.89,51.23 L595.01,51.26 L596.13,51.28 L597.25,51.31 L598.38,51.34 L599.50,51.37 L600.63,51.39 L601.76,51.42 L602.90,51.45 L604.03,51.47 L605.17,51.50 L606.31,51.53 L607.46,51.56 L608.60,51.58 L609.75,51.61 L610.90,51.64 L612.05,51.67 L613.21,51.69 L614.37,51.72 L615.52,51.75 L616.69,51.78 L617.85,51.80 L619.02,51.83 L620.19,51.86 L621.36,51.89 L622.53,51.91 L623.70,51.94 L624.88,51.97 L626.06,52.00 L627.24,52.02 L628.43,52.05 L629.62,52.08 L630.80,52.11 L631.99,52.13 L633.19,52.16 L634.38,52.19 L635.58,52.22 L636.78,52.24 L637.98,52.27 L639.19,52.30 L640.39,52.32 L641.60,52.35 L642.81,52.38 L644.03,52.41 L645.24,52.43 L646.46,52.46 L647.68,52.49 L648.90,52.52 L650.12,52.54 L651.35,52.57 L652.58,52.60 L653.81,52.63 L655.04,52.65 L656.28,52.68 L657.51,52.71 L658.75,52.74 L659.99,52.76 L661.24,52.79 L662.48,52.82 L663.73,52.85 L664.98,52.87 L666.23,52.90 L667.49,52.93 L668.74,52.96 L670.00,52.98" stroke="#ff8000"/><path d="M419.00,45.00 L419.05,45.00 L419.09,45.00 L419.14,45.00 L419.17,45.00 L419.25,45.00 L419.26,45.00 L419.34,45.00 L419.39,45.00 L419.43,45.00 L419.51,45.00 L419.54,45.00 L419.60,45.00 L419.68,45.00 L419.71,45.00 L419.77,45.00 L419.85,45.00 L419.90,45.00 L419.94,45.00 L420.02,45.00 L420.10,45.00 L420.11,45.00 L420.19,45.00 L420.28,45.00 L420.31,45.00 L420.36,45.00 L420.45,45.00 L420.53,45.00 L420.54,45.00 L420.62,45.00 L420.70,45.00 L420.77,45.00 L420.79,45.00 L420.87,45.00 L420.96,45.00 L421.02,45.00 L421.04,45.00 L421.13,45.00 L421.21,45.00 L421.28,45.00 L421.30,45.00 L421.38,45.00 L421.47,45.00 L421.54,45.00 L421.55,45.00 L421.64,45.00 L421.72,45.00 L421.81,45.00 L421.82,45.00 L421.89,45.00 L421.98,45.00 L422.06,45.00 L422.11,45.00 L422.15,45.00 L422.23,45.00 L422.32,45.00 L422.40,45.00 L422.40,45.00 L422.49,45.00 L422.57,45.00 L422.66,45.00 L422.71,45.00 L422.74,45.00 L422.83,45.00 L422.91,45.00 L423.00,45.00 L423.02,45.00 L423.08,45.00 L423.17,45.00 L423.25,45.00 L423.34,45.00 L423.34,45.00 L423.42,45.00 L423.51,45.00 L423.59,45.00 L423.67,45.00 L423.68,45.00 L423.76,45.00 L423.85,45.00 L423.93,45.00 L424.01,45.00 L424.02,45.00 L424.35,45.00 L424.71,45.00 L425.07,45.00 L425.44,45.00 L425.81,45.00 L426.19,45.00 L426.58,45.00 L426.98,45.00 L427.38,45.00 L427.79,45.00 L428.20,45.00 L428.62,45.00 L429.05,45.00 L429.49,45.01 L429.93,45.01 L430.37,45.01 L430.82,45.01 L431.28,45.01 L431.75,45.01 L432.21,45.01 L432.69,45.01 L433.17,45.01 L433.65,45.01 L434.15,45.01 L434.64,45.01 L435.14,45.01 L435.65,45.01 L436.16,45.01 L436.68,45.01 L437.20,45.01 L437.73,45.01 L438.26,45.02 L438.80,45.02 L439.34,45.02 L439.89,45.02 L440.44,45.02 L441.00,45.02 L441.56,45.02 L442.13,45.02 L442.70,45.02 L443.28,45.02 L443.86,45.02 L444.44,45.03 L445.03,45.03 L445.62,45.03 L446.22,45.03 L446.83,45.03 L447.43,45.03 L448.04,45.03 L448.66,45.03 L449.28,45.04 L449.90,45.04 L450.53,45.04 L451.17,45.04 L451.80,45.04 L452.44,45.04 L453.09,45.04 L453.74,45.05 L454.39,45.05 L455.05,45.05 L455.71,45.05 L456.38,45.05 L457.04,45.05 L457.72,45.06 L458.40,45.06 L459.08,45.06 L459.76,45.06 L460.45,45.06 L461.14,45.06 L461.84,45.07 L462.54,45.07 L463.24,45.07 L463.95,45.07 L464.66,45.07 L465.38,45.08 L466.10,45.08 L466.82,45.08 L467.55,45.08 L468.28,45.09 L469.01,45.09 L469.75,45.09 L470.49,45.09 L471.23,45.10 L471.98,45.10 L472.73,45.10 L473.49,45.10 L474.25,45.11 L475.01,45.11 L475.77,45.11 L476.54,45.11 L477.32,45.12 L478.09,45.12 L478.87,45.12 L479.65,45.13 L480.44,45.13 L481.23,45.13 L482.02,45.13 L482.82,45.14 L483.62,45.14 L484.42,45.14 L485.23,45.15 L486.03,45.15 L486.85,45.15 L487.66,45.16 L488.48,45.16 L489.30,45.16 L490.13,45.17 L490.96,45.17 L491.79,45.18 L492.63,45.18 L493.46,45.18 L494.31,45.19 L495.15,45.19 L496.00,45.19 L496.85,45.20 L497.70,45.20 L498.56,45.21 L499.42,45.21 L500.28,45.21 L501.15,45.22 L502.02,45.22 L502.89,45.23 L503.77,45.23 L504.64,45.24 L505.53,45.24 L506.41,45.24 L507.30,45.25 L508.19,45.25 L509.08,45.26 L509.98,45.26 L510.88,45.27 L511.78,45.27 L512.68,45.28 L513.59,45.28 L514.50,45.29 L515.42,45.29 L516.33,45.30 L517.25,45.30 L518.18,45.31 L519.10,45.31 L520.03,45.32 L520.96,45.32 L521.89,45.33 L522.83,45.33 L523.77,45.34 L524.71,45.35 L525.66,45.35 L526.61,45.36 L527.56,45.36 L528.51,45.37 L529.47,45.37 L530.43,45.38 L531.39,45.39 L532.35,45.39 L533.32,45.40 L534.29,45.40 L535.26,45.41 L536.24,45.42 L537.22,45.42 L538.20,45.43 L539.18,45.44 L540.17,45.44 L541.16,45.45 L542.15,45.46 L543.15,45.46 L544.14,45.47 L545.14,45.48 L546.14,45.48 L547.15,45.49 L548.16,45.50 L549.17,45.50 L550.18,45.51 L551.20,45.52 L552.21,45.52 L553.24,45.53 L554.26,45.54 L555.28,45.55 L556.31,45.55 L557.34,45.56 L558.38,45.57 L559.41,45.58 L560.45,45.58 L561.49,45.59 L562.54,45.60 L563.58,45.61 L564.63,45.62 L565.69,45.62 L566.74,45.63 L567.80,45.64 L568.85,45.65 L569.92,45.66 L570.98,45.67 L572.05,45.67 L573.12,45.68 L574.19,45.69 L575.26,45.70 L576.34,45.71 L577.42,45.72 L578.50,45.73 L579.58,45.73 L580.67,45.74 L581.76,45.75 L582.85,45.76 L583.94,45.77 L585.04,45.78 L586.14,45.79 L587.24,45.80 L588.34,45.81 L589.45,45.82 L590.55,45.83 L591.66,45.84 L592.78,45.85 L593.89,45.86 L595.01,45.87 L596.13,45.87 L597.25,45.88 L598.38,45.89 L599.50,45.90 L600.63,45.91 L601.76,45.93 L602.90,45.94 L604.03,45.95 L605.17,45.96 L606.31,45.97 L607.46,45.98 L608.60,45.99 L609.75,46.00 L610.90,46.01 L612.05,46.02 L613.21,46.03 L614.37,46.04 L615.52,46.05 L616.69,46.06 L617.85,46.07 L619.02,46.09 L620.19,46.10 L621.36,46.11 L622.53,46.12 L623.70,46.13 L624.88,46.14 L626.06,46.15 L627.24,46.17 L628.43,46.18 L629.62,46.19 L630.80,46.20 L631.99,46.21 L633.19,46.23 L634.38,46.24 L635.58,46.25 L636.78,46.26 L637.98,46.27 L639.19,46.29 L640.39,46.30 L641.60,46.31 L642.81,46.32 L644.03,46.34 L645.24,46.35 L646.46,46.36 L647.68,46.38 L648.90,46.39 L650.12,46.40 L651.35,46.41 L652.58,46.43 L653.81,46.44 L655.04,46.45 L656.28,46.47 L657.51,46.48 L658.75,46.49 L659.99,46.51 L661.24,46.52 L662.48,46.54 L663.73,46.55 L664.98,46.56 L666.23,46.58 L667.49,46.59 L668.74,46.60 L670.00,46.62" stroke="#808080"/>
</g>
<line x1="408" y1="136.7" x2="682" y2="136.7" stroke="#000" stroke-width="2.2" stroke-dasharray="9.8 9.2"/>
<g stroke="#000" stroke-width="2"><line x1="419.00" y1="227.5" x2="419.00" y2="223.5"/>
<line x1="419.00" y1="25" x2="419.00" y2="29"/>
<line x1="444.10" y1="227.5" x2="444.10" y2="225.5"/>
<line x1="444.10" y1="25" x2="444.10" y2="27"/>
<line x1="469.20" y1="227.5" x2="469.20" y2="223.5"/>
<line x1="469.20" y1="25" x2="469.20" y2="29"/>
<line x1="494.30" y1="227.5" x2="494.30" y2="225.5"/>
<line x1="494.30" y1="25" x2="494.30" y2="27"/>
<line x1="519.40" y1="227.5" x2="519.40" y2="223.5"/>
<line x1="519.40" y1="25" x2="519.40" y2="29"/>
<line x1="544.50" y1="227.5" x2="544.50" y2="225.5"/>
<line x1="544.50" y1="25" x2="544.50" y2="27"/>
<line x1="569.60" y1="227.5" x2="569.60" y2="223.5"/>
<line x1="569.60" y1="25" x2="569.60" y2="29"/>
<line x1="594.70" y1="227.5" x2="594.70" y2="225.5"/>
<line x1="594.70" y1="25" x2="594.70" y2="27"/>
<line x1="619.80" y1="227.5" x2="619.80" y2="223.5"/>
<line x1="619.80" y1="25" x2="619.80" y2="29"/>
<line x1="644.90" y1="227.5" x2="644.90" y2="225.5"/>
<line x1="644.90" y1="25" x2="644.90" y2="27"/>
<line x1="670.00" y1="227.5" x2="670.00" y2="223.5"/>
<line x1="670.00" y1="25" x2="670.00" y2="29"/>
<line x1="408" y1="228.50" x2="412" y2="228.50"/>
<line x1="681" y1="228.50" x2="677" y2="228.50"/>
<line x1="408" y1="196.58" x2="410" y2="196.58"/>
<line x1="681" y1="196.58" x2="679" y2="196.58"/>
<line x1="408" y1="164.66" x2="412" y2="164.66"/>
<line x1="681" y1="164.66" x2="677" y2="164.66"/>
<line x1="408" y1="132.75" x2="410" y2="132.75"/>
<line x1="681" y1="132.75" x2="679" y2="132.75"/>
<line x1="408" y1="100.83" x2="412" y2="100.83"/>
<line x1="681" y1="100.83" x2="677" y2="100.83"/>
<line x1="408" y1="68.91" x2="410" y2="68.91"/>
<line x1="681" y1="68.91" x2="679" y2="68.91"/>
<line x1="408" y1="36.99" x2="412" y2="36.99"/>
<line x1="681" y1="36.99" x2="677" y2="36.99"/></g>
<rect x="406.5" y="24" width="275.7" height="205" fill="none" stroke="#000" stroke-width="2"/>
<g font-size="20">
<text transform="translate(419.00,248.50) scale(0.955,1)" text-anchor="middle">0.0</text>
<text transform="translate(469.20,248.50) scale(0.955,1)" text-anchor="middle">0.2</text>
<text transform="translate(519.40,248.50) scale(0.955,1)" text-anchor="middle">0.4</text>
<text transform="translate(569.60,248.50) scale(0.955,1)" text-anchor="middle">0.6</text>
<text transform="translate(619.80,248.50) scale(0.955,1)" text-anchor="middle">0.8</text>
<text transform="translate(670.00,248.50) scale(0.955,1)" text-anchor="middle">1.0</text>
<text transform="translate(401.00,235.10) scale(0.955,1)" text-anchor="end">0.00</text>
<text transform="translate(401.00,171.26) scale(0.955,1)" text-anchor="end">0.05</text>
<text transform="translate(401.00,107.43) scale(0.955,1)" text-anchor="end">0.10</text>
<text transform="translate(401.00,43.60) scale(0.955,1)" text-anchor="end">0.15</text>
</g>
<text x="540" y="159.4" font-size="16.7">Critical Length</text>
<text x="360.3" y="19.5" font-size="22.5">(b)</text>
<text x="545" y="270.4" font-size="24" text-anchor="middle">Plate Length <tspan font-style="italic">L</tspan> (m)</text>
<text transform="translate(361,125.6) rotate(-90)" font-size="24" text-anchor="middle">Optical Efficiency</text>
</g>
</svg>
</body></html>
